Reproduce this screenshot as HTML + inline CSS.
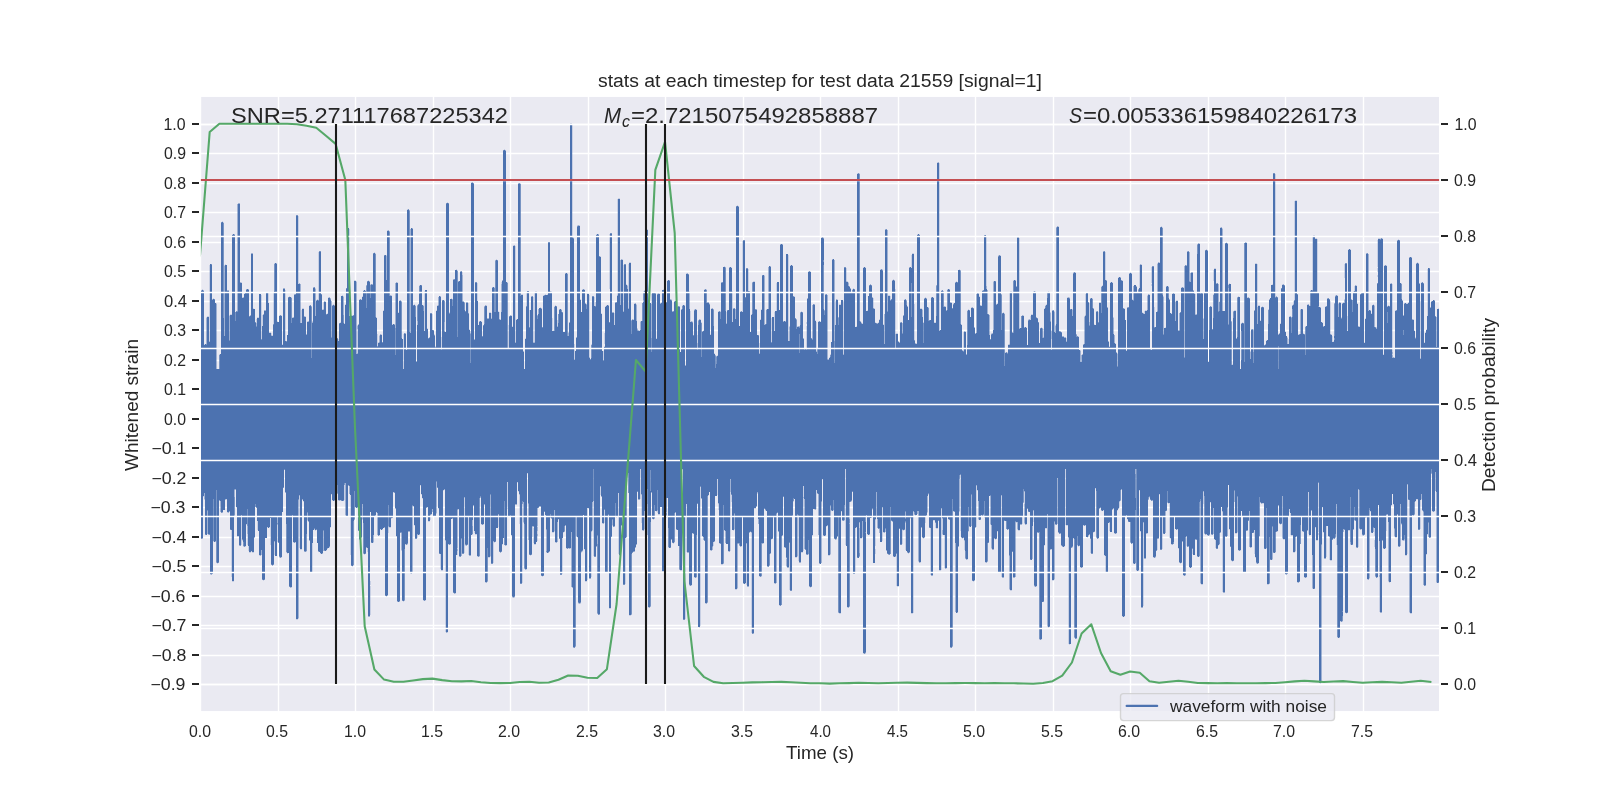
<!DOCTYPE html><html><head><meta charset="utf-8"><title>stats at each timestep</title>
<style>html,body{margin:0;padding:0;background:#fff;overflow:hidden}svg{display:block}text{font-family:"Liberation Sans", sans-serif;fill:#262626}</style></head><body>
<svg width="1600" height="800" viewBox="0 0 1600 800">
<rect width="1600" height="800" fill="#fff"/>
<rect x="200" y="96" width="1240" height="616" fill="#EAEAF2"/>
<path d="M200.5 96V712M278.5 96V712M355.5 96V712M433.5 96V712M510.5 96V712M588.5 96V712M665.5 96V712M743.5 96V712M820.5 96V712M898.5 96V712M975.5 96V712M1053.5 96V712M1130.5 96V712M1208.5 96V712M1285.5 96V712M1363.5 96V712M200 684.5H1440M200 655.5H1440M200 625.5H1440M200 596.5H1440M200 566.5H1440M200 537.5H1440M200 507.5H1440M200 478.5H1440M200 448.5H1440M200 419.5H1440M200 389.5H1440M200 360.5H1440M200 330.5H1440M200 301.5H1440M200 271.5H1440M200 242.5H1440M200 212.5H1440M200 183.5H1440M200 153.5H1440M200 124.5H1440" stroke="#fff" stroke-width="1.39" fill="none"/>
<path d="M200 314h1V538h-1zM201 290h1V539h-1zM202 289h1V539h-1zM203 290h1V497h-1zM204 344h1V500h-1zM205 344h1V535h-1zM206 317h1V535h-1zM207 316h1V534h-1zM208 316h1V535h-1zM209 265h1V535h-1zM210 264h1V575h-1zM211 264h1V575h-1zM212 299h1V574h-1zM213 298h1V542h-1zM214 299h1V542h-1zM215 303h1V542h-1zM216 303h1V563h-1zM217 369h1V564h-1zM218 369h1V563h-1zM219 354h1V501h-1zM220 354h1V512h-1zM221 222h1V513h-1zM222 221h1V513h-1zM223 222h1V510h-1zM224 265h1V510h-1zM225 264h1V500h-1zM226 265h1V500h-1zM227 290h1V513h-1zM228 290h1V513h-1zM229 315h1V512h-1zM230 314h1V530h-1zM231 314h1V577h-1zM232 234h1V582h-1zM233 234h1V582h-1zM234 234h1V516h-1zM235 312h1V490h-1zM236 311h1V508h-1zM237 204h1V537h-1zM238 203h1V537h-1zM239 203h1V546h-1zM240 282h1V546h-1zM241 282h1V545h-1zM242 297h1V541h-1zM243 297h1V547h-1zM244 293h1V547h-1zM245 293h1V547h-1zM246 289h1V525h-1zM247 289h1V545h-1zM248 289h1V551h-1zM249 316h1V553h-1zM250 315h1V553h-1zM251 253h1V552h-1zM252 253h1V553h-1zM253 308h1V553h-1zM254 309h1V538h-1zM255 322h1V507h-1zM256 319h1V508h-1zM257 317h1V530h-1zM258 317h1V531h-1zM259 294h1V556h-1zM260 294h1V556h-1zM261 295h1V555h-1zM262 315h1V580h-1zM263 314h1V581h-1zM264 310h1V580h-1zM265 310h1V538h-1zM266 292h1V538h-1zM267 292h1V528h-1zM268 293h1V528h-1zM269 332h1V528h-1zM270 332h1V545h-1zM271 333h1V565h-1zM272 335h1V566h-1zM273 292h1V565h-1zM274 263h1V555h-1zM275 263h1V556h-1zM276 263h1V556h-1zM277 321h1V542h-1zM278 322h1V543h-1zM279 315h1V558h-1zM280 315h1V558h-1zM281 315h1V558h-1zM282 344h1V512h-1zM283 288h1V488h-1zM284 288h1V470h-1zM285 290h1V493h-1zM286 341h1V553h-1zM287 335h1V554h-1zM288 297h1V553h-1zM289 296h1V587h-1zM290 297h1V588h-1zM291 297h1V588h-1zM292 317h1V516h-1zM293 317h1V543h-1zM294 294h1V543h-1zM295 294h1V543h-1zM296 215h1V620h-1zM297 215h1V620h-1zM298 216h1V619h-1zM299 283h1V548h-1zM300 284h1V550h-1zM301 310h1V550h-1zM302 308h1V500h-1zM303 308h1V502h-1zM304 316h1V552h-1zM305 316h1V552h-1zM306 334h1V552h-1zM307 321h1V521h-1zM308 321h1V522h-1zM309 305h1V541h-1zM310 305h1V573h-1zM311 306h1V573h-1zM312 321h1V572h-1zM313 287h1V530h-1zM314 287h1V530h-1zM315 288h1V531h-1zM316 300h1V530h-1zM317 299h1V543h-1zM318 252h1V552h-1zM319 251h1V552h-1zM320 251h1V554h-1zM321 294h1V554h-1zM322 309h1V554h-1zM323 302h1V551h-1zM324 301h1V551h-1zM325 301h1V551h-1zM326 314h1V551h-1zM327 313h1V549h-1zM328 297h1V548h-1zM329 297h1V548h-1zM330 298h1V528h-1zM331 301h1V495h-1zM332 305h1V501h-1zM333 304h1V501h-1zM334 305h1V501h-1zM335 311h1V499h-1zM336 338h1V498h-1zM337 338h1V494h-1zM338 339h1V501h-1zM339 323h1V501h-1zM340 322h1V501h-1zM341 296h1V501h-1zM342 295h1V501h-1zM343 296h1V501h-1zM344 323h1V500h-1zM345 304h1V516h-1zM346 288h1V517h-1zM347 228h1V517h-1zM348 228h1V486h-1zM349 229h1V494h-1zM350 315h1V555h-1zM351 315h1V566h-1zM352 315h1V567h-1zM353 315h1V566h-1zM354 280h1V520h-1zM355 280h1V508h-1zM356 281h1V508h-1zM357 325h1V508h-1zM358 324h1V531h-1zM359 299h1V540h-1zM360 299h1V540h-1zM361 299h1V538h-1zM362 296h1V520h-1zM363 290h1V554h-1zM364 290h1V555h-1zM365 290h1V554h-1zM366 285h1V548h-1zM367 281h1V552h-1zM368 280h1V617h-1zM369 281h1V617h-1zM370 284h1V512h-1zM370 581h1V585h-1zM370 586h1V615h-1zM371 284h1V543h-1zM372 284h1V543h-1zM373 253h1V543h-1zM374 252h1V517h-1zM375 253h1V516h-1zM376 317h1V513h-1zM377 334h1V535h-1zM378 342h1V536h-1zM379 335h1V536h-1zM380 334h1V530h-1zM381 334h1V530h-1zM382 342h1V530h-1zM383 310h1V528h-1zM384 255h1V528h-1zM385 255h1V596h-1zM386 255h1V597h-1zM387 230h1V596h-1zM388 230h1V533h-1zM389 231h1V528h-1zM390 295h1V528h-1zM391 295h1V519h-1zM392 324h1V518h-1zM393 324h1V493h-1zM394 324h1V493h-1zM395 283h1V509h-1zM396 282h1V537h-1zM397 282h1V602h-1zM398 312h1V602h-1zM399 300h1V602h-1zM400 300h1V533h-1zM401 301h1V551h-1zM402 339h1V601h-1zM403 334h1V602h-1zM404 333h1V601h-1zM405 333h1V545h-1zM406 349h1V545h-1zM407 209h1V545h-1zM408 209h1V532h-1zM409 210h1V532h-1zM410 229h1V574h-1zM411 228h1V574h-1zM412 228h1V573h-1zM413 305h1V507h-1zM414 304h1V526h-1zM415 305h1V539h-1zM416 361h1V539h-1zM417 305h1V538h-1zM418 304h1V535h-1zM419 285h1V535h-1zM420 285h1V486h-1zM421 285h1V495h-1zM422 305h1V499h-1zM423 305h1V601h-1zM424 291h1V601h-1zM425 290h1V601h-1zM426 290h1V508h-1zM427 328h1V508h-1zM428 338h1V522h-1zM429 337h1V522h-1zM430 313h1V520h-1zM431 313h1V515h-1zM432 314h1V512h-1zM433 330h1V517h-1zM434 334h1V517h-1zM435 346h1V517h-1zM436 310h1V514h-1zM437 305h1V488h-1zM438 297h1V509h-1zM439 296h1V554h-1zM440 296h1V569h-1zM441 337h1V571h-1zM442 300h1V571h-1zM443 300h1V491h-1zM444 300h1V490h-1zM445 332h1V632h-1zM446 203h1V633h-1zM447 202h1V633h-1zM448 203h1V545h-1zM449 312h1V545h-1zM450 299h1V545h-1zM451 298h1V519h-1zM452 299h1V519h-1zM453 279h1V593h-1zM454 279h1V594h-1zM455 270h1V594h-1zM456 269h1V555h-1zM457 270h1V555h-1zM458 281h1V510h-1zM459 281h1V557h-1zM460 271h1V557h-1zM461 271h1V556h-1zM462 272h1V554h-1zM463 301h1V554h-1zM464 302h1V553h-1zM465 311h1V546h-1zM466 302h1V546h-1zM467 302h1V545h-1zM468 303h1V555h-1zM469 329h1V556h-1zM470 331h1V556h-1zM471 182h1V535h-1zM472 182h1V535h-1zM473 183h1V506h-1zM474 339h1V533h-1zM475 282h1V535h-1zM476 282h1V535h-1zM477 283h1V557h-1zM478 325h1V557h-1zM479 321h1V557h-1zM480 321h1V498h-1zM481 321h1V525h-1zM482 336h1V525h-1zM483 325h1V525h-1zM484 306h1V505h-1zM485 305h1V583h-1zM486 305h1V583h-1zM487 318h1V582h-1zM488 318h1V558h-1zM489 312h1V558h-1zM490 312h1V557h-1zM491 313h1V564h-1zM492 287h1V564h-1zM493 287h1V563h-1zM494 287h1V543h-1zM495 260h1V542h-1zM496 259h1V528h-1zM497 260h1V528h-1zM498 311h1V527h-1zM499 312h1V552h-1zM500 319h1V553h-1zM501 282h1V552h-1zM502 280h1V545h-1zM503 150h1V538h-1zM504 149h1V545h-1zM505 150h1V546h-1zM506 282h1V546h-1zM507 282h1V509h-1zM508 325h1V517h-1zM509 316h1V517h-1zM510 315h1V517h-1zM511 315h1V536h-1zM512 326h1V598h-1zM513 245h1V598h-1zM514 245h1V598h-1zM515 246h1V505h-1zM516 319h1V505h-1zM517 319h1V483h-1zM518 183h1V492h-1zM519 183h1V524h-1zM520 183h1V584h-1zM521 294h1V584h-1zM522 294h1V583h-1zM523 351h1V523h-1zM524 369h1V569h-1zM525 338h1V570h-1zM526 292h1V570h-1zM527 291h1V474h-1zM528 291h1V540h-1zM529 310h1V555h-1zM530 310h1V556h-1zM531 296h1V555h-1zM532 296h1V537h-1zM533 297h1V527h-1zM533 528h1V543h-1zM534 293h1V545h-1zM535 291h1V545h-1zM536 291h1V542h-1zM537 315h1V541h-1zM538 309h1V508h-1zM539 308h1V507h-1zM540 307h1V507h-1zM541 308h1V576h-1zM542 327h1V577h-1zM543 295h1V576h-1zM544 295h1V512h-1zM545 294h1V516h-1zM546 295h1V553h-1zM547 294h1V553h-1zM548 242h1V553h-1zM549 242h1V552h-1zM550 291h1V518h-1zM551 291h1V519h-1zM552 318h1V533h-1zM553 330h1V533h-1zM554 306h1V532h-1zM555 305h1V543h-1zM556 306h1V543h-1zM557 320h1V542h-1zM558 314h1V520h-1zM559 309h1V539h-1zM560 309h1V575h-1zM561 309h1V575h-1zM562 312h1V574h-1zM563 332h1V533h-1zM564 332h1V532h-1zM565 273h1V526h-1zM566 273h1V549h-1zM567 273h1V549h-1zM568 332h1V549h-1zM569 322h1V549h-1zM570 123h1V549h-1zM571 123h1V587h-1zM572 125h1V588h-1zM573 237h1V648h-1zM574 344h1V648h-1zM575 351h1V647h-1zM576 337h1V537h-1zM577 225h1V538h-1zM578 225h1V604h-1zM579 225h1V604h-1zM580 299h1V604h-1zM581 312h1V553h-1zM582 289h1V552h-1zM583 289h1V515h-1zM584 289h1V550h-1zM585 303h1V582h-1zM586 304h1V582h-1zM587 293h1V580h-1zM588 293h1V509h-1zM589 295h1V579h-1zM590 359h1V579h-1zM591 344h1V577h-1zM592 296h1V531h-1zM593 296h1V556h-1zM594 297h1V557h-1zM595 302h1V557h-1zM596 234h1V547h-1zM597 234h1V614h-1zM598 234h1V615h-1zM599 256h1V615h-1zM600 256h1V495h-1zM601 313h1V497h-1zM602 351h1V524h-1zM603 351h1V524h-1zM604 333h1V344h-1zM604 346h1V523h-1zM605 306h1V573h-1zM606 305h1V573h-1zM607 305h1V573h-1zM608 305h1V516h-1zM609 234h1V289h-1zM609 322h1V609h-1zM610 233h1V609h-1zM611 233h1V537h-1zM612 312h1V526h-1zM613 312h1V527h-1zM614 313h1V527h-1zM615 302h1V517h-1zM616 302h1V518h-1zM617 199h1V517h-1zM618 198h1V554h-1zM619 198h1V556h-1zM620 260h1V555h-1zM621 259h1V526h-1zM622 259h1V524h-1zM623 265h1V585h-1zM624 264h1V585h-1zM625 264h1V584h-1zM626 284h1V538h-1zM627 285h1V474h-1zM628 264h1V493h-1zM629 262h1V616h-1zM630 262h1V616h-1zM631 320h1V615h-1zM632 319h1V553h-1zM633 319h1V552h-1zM634 303h1V552h-1zM635 303h1V548h-1zM636 304h1V545h-1zM637 328h1V492h-1zM638 330h1V500h-1zM639 330h1V500h-1zM640 321h1V499h-1zM641 321h1V523h-1zM642 303h1V531h-1zM643 291h1V531h-1zM644 290h1V530h-1zM645 230h1V511h-1zM646 229h1V506h-1zM647 229h1V535h-1zM648 320h1V608h-1zM649 303h1V608h-1zM650 303h1V607h-1zM651 294h1V493h-1zM652 292h1V519h-1zM653 292h1V520h-1zM654 292h1V519h-1zM655 293h1V511h-1zM656 338h1V512h-1zM657 293h1V513h-1zM658 293h1V515h-1zM659 293h1V515h-1zM660 303h1V507h-1zM661 302h1V507h-1zM662 290h1V572h-1zM663 289h1V572h-1zM664 290h1V571h-1zM665 302h1V519h-1zM666 302h1V518h-1zM667 280h1V498h-1zM668 280h1V548h-1zM669 280h1V548h-1zM670 299h1V548h-1zM671 299h1V540h-1zM672 311h1V543h-1zM673 311h1V544h-1zM674 301h1V543h-1zM675 301h1V513h-1zM676 301h1V530h-1zM677 306h1V530h-1zM678 306h1V546h-1zM679 306h1V570h-1zM680 352h1V571h-1zM681 309h1V571h-1zM682 305h1V470h-1zM683 305h1V620h-1zM684 305h1V620h-1zM685 365h1V619h-1zM686 273h1V552h-1zM687 273h1V553h-1zM688 274h1V553h-1zM689 291h1V586h-1zM690 311h1V586h-1zM691 321h1V586h-1zM692 321h1V534h-1zM693 335h1V534h-1zM694 309h1V578h-1zM695 309h1V578h-1zM696 309h1V578h-1zM697 335h1V504h-1zM698 320h1V627h-1zM699 319h1V628h-1zM700 319h1V626h-1zM701 322h1V499h-1zM702 331h1V537h-1zM703 330h1V540h-1zM704 289h1V541h-1zM705 289h1V604h-1zM706 289h1V604h-1zM707 302h1V603h-1zM708 302h1V496h-1zM709 303h1V492h-1zM710 334h1V551h-1zM711 308h1V551h-1zM712 308h1V550h-1zM713 309h1V546h-1zM714 353h1V542h-1zM715 355h1V496h-1zM716 356h1V496h-1zM717 355h1V495h-1zM718 311h1V510h-1zM719 311h1V544h-1zM720 311h1V544h-1zM721 282h1V565h-1zM722 282h1V565h-1zM723 267h1V564h-1zM724 266h1V531h-1zM725 267h1V543h-1zM726 312h1V544h-1zM727 310h1V544h-1zM728 310h1V552h-1zM729 267h1V552h-1zM730 267h1V551h-1zM731 267h1V502h-1zM732 291h1V530h-1zM733 308h1V531h-1zM734 308h1V530h-1zM735 309h1V590h-1zM736 206h1V590h-1zM737 205h1V589h-1zM738 206h1V544h-1zM739 326h1V546h-1zM740 311h1V547h-1zM741 311h1V547h-1zM742 241h1V518h-1zM743 240h1V584h-1zM744 240h1V584h-1zM745 297h1V584h-1zM746 268h1V585h-1zM747 268h1V587h-1zM748 269h1V587h-1zM749 291h1V533h-1zM750 332h1V532h-1zM751 314h1V633h-1zM752 282h1V634h-1zM753 281h1V634h-1zM754 281h1V509h-1zM755 309h1V509h-1zM756 309h1V507h-1zM757 335h1V494h-1zM758 335h1V524h-1zM759 343h1V577h-1zM760 319h1V577h-1zM761 309h1V577h-1zM762 275h1V544h-1zM763 275h1V544h-1zM764 275h1V509h-1zM765 324h1V511h-1zM766 309h1V511h-1zM767 309h1V567h-1zM768 267h1V567h-1zM769 266h1V566h-1zM770 266h1V554h-1zM771 318h1V540h-1zM772 317h1V539h-1zM773 317h1V518h-1zM774 312h1V584h-1zM775 311h1V584h-1zM776 283h1V583h-1zM777 282h1V513h-1zM778 282h1V532h-1zM779 310h1V606h-1zM780 244h1V606h-1zM781 244h1V605h-1zM782 244h1V536h-1zM783 321h1V497h-1zM784 321h1V548h-1zM785 321h1V548h-1zM786 254h1V567h-1zM787 254h1V568h-1zM788 255h1V568h-1zM789 326h1V590h-1zM790 265h1V591h-1zM791 265h1V591h-1zM792 265h1V516h-1zM793 296h1V502h-1zM794 296h1V499h-1zM795 318h1V558h-1zM796 319h1V558h-1zM797 326h1V557h-1zM798 326h1V561h-1zM799 326h1V563h-1zM800 312h1V563h-1zM801 311h1V553h-1zM802 312h1V553h-1zM803 338h1V551h-1zM804 349h1V549h-1zM805 348h1V550h-1zM806 322h1V324h-1zM806 326h1V555h-1zM807 298h1V555h-1zM808 271h1V555h-1zM809 271h1V587h-1zM810 271h1V588h-1zM811 338h1V587h-1zM812 305h1V536h-1zM813 304h1V509h-1zM814 304h1V510h-1zM815 320h1V510h-1zM816 322h1V509h-1zM817 348h1V494h-1zM818 321h1V535h-1zM819 321h1V564h-1zM820 321h1V564h-1zM821 237h1V563h-1zM822 237h1V480h-1zM823 237h1V536h-1zM824 310h1V536h-1zM825 294h1V536h-1zM826 294h1V527h-1zM827 295h1V526h-1zM828 359h1V556h-1zM829 357h1V556h-1zM830 354h1V555h-1zM831 342h1V511h-1zM832 259h1V511h-1zM833 259h1V511h-1zM834 260h1V539h-1zM835 301h1V540h-1zM836 299h1V540h-1zM837 299h1V537h-1zM838 317h1V613h-1zM839 304h1V614h-1zM840 304h1V614h-1zM841 300h1V512h-1zM842 300h1V521h-1zM843 301h1V521h-1zM844 267h1V521h-1zM845 267h1V545h-1zM846 268h1V546h-1zM847 281h1V608h-1zM848 282h1V608h-1zM849 286h1V607h-1zM850 288h1V502h-1zM851 292h1V502h-1zM852 289h1V492h-1zM853 288h1V574h-1zM854 289h1V574h-1zM855 327h1V573h-1zM856 326h1V528h-1zM857 173h1V558h-1zM858 173h1V558h-1zM859 173h1V557h-1zM860 321h1V539h-1zM861 322h1V539h-1zM862 323h1V538h-1zM863 267h1V654h-1zM864 267h1V654h-1zM865 267h1V654h-1zM866 311h1V516h-1zM867 310h1V535h-1zM868 296h1V535h-1zM869 285h1V535h-1zM870 284h1V518h-1zM871 285h1V518h-1zM872 297h1V510h-1zM873 298h1V563h-1zM874 308h1V563h-1zM875 322h1V546h-1zM875 549h1V554h-1zM876 323h1V516h-1zM877 323h1V528h-1zM878 322h1V529h-1zM879 319h1V533h-1zM880 269h1V542h-1zM881 269h1V542h-1zM882 269h1V541h-1zM883 324h1V533h-1zM884 314h1V533h-1zM885 229h1V532h-1zM886 229h1V551h-1zM887 230h1V554h-1zM888 295h1V555h-1zM889 295h1V555h-1zM890 296h1V554h-1zM891 299h1V521h-1zM892 280h1V522h-1zM893 279h1V557h-1zM894 280h1V557h-1zM895 289h1V557h-1zM896 333h1V586h-1zM897 333h1V587h-1zM898 341h1V587h-1zM899 342h1V529h-1zM900 322h1V545h-1zM901 322h1V545h-1zM902 323h1V544h-1zM903 315h1V531h-1zM904 299h1V530h-1zM905 299h1V550h-1zM906 300h1V551h-1zM907 306h1V553h-1zM908 320h1V554h-1zM909 267h1V553h-1zM910 267h1V519h-1zM911 255h1V614h-1zM912 253h1V614h-1zM913 253h1V613h-1zM914 304h1V515h-1zM915 343h1V516h-1zM916 343h1V515h-1zM917 234h1V514h-1zM918 234h1V562h-1zM919 234h1V563h-1zM920 308h1V563h-1zM921 308h1V528h-1zM922 309h1V538h-1zM923 322h1V539h-1zM924 298h1V538h-1zM925 297h1V523h-1zM926 298h1V516h-1zM927 307h1V513h-1zM928 307h1V495h-1zM929 320h1V528h-1zM930 320h1V575h-1zM931 297h1V576h-1zM932 297h1V576h-1zM933 297h1V521h-1zM934 322h1V521h-1zM935 322h1V528h-1zM936 285h1V529h-1zM937 162h1V529h-1zM938 162h1V521h-1zM939 163h1V571h-1zM940 330h1V571h-1zM941 290h1V570h-1zM942 290h1V535h-1zM943 291h1V535h-1zM944 306h1V568h-1zM945 306h1V569h-1zM946 310h1V569h-1zM947 289h1V516h-1zM948 289h1V520h-1zM949 289h1V520h-1zM950 302h1V648h-1zM951 302h1V648h-1zM952 308h1V647h-1zM953 303h1V512h-1zM954 303h1V512h-1zM955 282h1V612h-1zM956 281h1V613h-1zM957 282h1V613h-1zM958 270h1V547h-1zM959 269h1V512h-1zM960 270h1V531h-1zM961 324h1V538h-1zM962 350h1V539h-1zM963 332h1V538h-1zM964 331h1V550h-1zM965 331h1V559h-1zM966 354h1V560h-1zM967 310h1V560h-1zM968 309h1V532h-1zM969 310h1V527h-1zM970 317h1V527h-1zM971 307h1V526h-1zM972 307h1V581h-1zM973 308h1V582h-1zM974 327h1V581h-1zM975 333h1V528h-1zM976 294h1V527h-1zM977 293h1V491h-1zM978 293h1V520h-1zM979 296h1V520h-1zM980 305h1V520h-1zM981 305h1V516h-1zM982 290h1V516h-1zM983 290h1V516h-1zM984 235h1V518h-1zM985 235h1V563h-1zM986 236h1V563h-1zM987 290h1V562h-1zM988 314h1V543h-1zM989 315h1V496h-1zM990 339h1V525h-1zM991 333h1V549h-1zM992 333h1V550h-1zM993 281h1V550h-1zM994 281h1V539h-1zM995 281h1V540h-1zM996 304h1V539h-1zM997 303h1V532h-1zM998 255h1V573h-1zM999 255h1V573h-1zM1000 255h1V573h-1zM1001 294h1V577h-1zM1002 313h1V578h-1zM1003 312h1V578h-1zM1004 313h1V521h-1zM1005 352h1V521h-1zM1006 352h1V529h-1zM1007 352h1V530h-1zM1008 344h1V530h-1zM1009 293h1V590h-1zM1010 291h1V591h-1zM1011 291h1V591h-1zM1012 332h1V552h-1zM1013 280h1V578h-1zM1014 280h1V578h-1zM1015 280h1V577h-1zM1016 286h1V523h-1zM1017 237h1V530h-1zM1018 237h1V531h-1zM1019 238h1V531h-1zM1020 328h1V525h-1zM1021 316h1V525h-1zM1022 315h1V524h-1zM1023 315h1V503h-1zM1024 327h1V524h-1zM1025 327h1V525h-1zM1026 327h1V525h-1zM1027 345h1V509h-1zM1028 319h1V512h-1zM1029 319h1V512h-1zM1030 316h1V560h-1zM1031 314h1V560h-1zM1032 314h1V559h-1zM1033 291h1V522h-1zM1034 291h1V587h-1zM1035 291h1V587h-1zM1036 317h1V587h-1zM1037 318h1V533h-1zM1038 322h1V533h-1zM1039 343h1V640h-1zM1040 328h1V640h-1zM1041 327h1V640h-1zM1042 328h1V602h-1zM1043 329h1V602h-1zM1044 308h1V546h-1zM1045 305h1V529h-1zM1046 304h1V529h-1zM1047 292h1V627h-1zM1048 291h1V628h-1zM1049 292h1V627h-1zM1050 312h1V550h-1zM1051 330h1V550h-1zM1052 310h1V581h-1zM1053 310h1V581h-1zM1054 311h1V580h-1zM1055 325h1V525h-1zM1056 227h1V525h-1zM1057 226h1V524h-1zM1058 226h1V533h-1zM1059 331h1V534h-1zM1060 331h1V534h-1zM1061 332h1V546h-1zM1062 336h1V547h-1zM1063 336h1V547h-1zM1064 337h1V547h-1zM1065 337h1V525h-1zM1066 338h1V526h-1zM1067 297h1V526h-1zM1068 297h1V644h-1zM1069 297h1V645h-1zM1070 309h1V644h-1zM1071 309h1V548h-1zM1072 309h1V548h-1zM1073 272h1V539h-1zM1074 272h1V638h-1zM1075 272h1V639h-1zM1076 334h1V639h-1zM1077 336h1V546h-1zM1078 336h1V547h-1zM1079 350h1V546h-1zM1080 350h1V568h-1zM1081 355h1V568h-1zM1082 354h1V568h-1zM1083 344h1V526h-1zM1084 316h1V526h-1zM1085 294h1V526h-1zM1086 292h1V537h-1zM1087 292h1V538h-1zM1088 302h1V537h-1zM1089 303h1V535h-1zM1090 298h1V553h-1zM1091 298h1V554h-1zM1092 298h1V554h-1zM1093 308h1V533h-1zM1094 324h1V532h-1zM1095 325h1V489h-1zM1096 311h1V538h-1zM1097 311h1V539h-1zM1098 312h1V539h-1zM1099 302h1V509h-1zM1100 302h1V508h-1zM1101 286h1V511h-1zM1102 285h1V511h-1zM1103 251h1V511h-1zM1104 251h1V556h-1zM1105 252h1V572h-1zM1106 280h1V573h-1zM1107 307h1V573h-1zM1108 341h1V523h-1zM1109 346h1V531h-1zM1110 282h1V532h-1zM1111 282h1V532h-1zM1112 282h1V510h-1zM1113 317h1V509h-1zM1114 335h1V534h-1zM1115 343h1V534h-1zM1116 352h1V534h-1zM1117 353h1V511h-1zM1118 277h1V509h-1zM1119 277h1V508h-1zM1120 277h1V501h-1zM1121 280h1V490h-1zM1122 280h1V617h-1zM1123 308h1V617h-1zM1124 308h1V617h-1zM1125 320h1V517h-1zM1126 350h1V516h-1zM1127 307h1V520h-1zM1128 307h1V522h-1zM1129 273h1V522h-1zM1130 272h1V543h-1zM1131 273h1V544h-1zM1132 299h1V544h-1zM1133 286h1V564h-1zM1134 285h1V564h-1zM1135 285h1V564h-1zM1136 286h1V571h-1zM1137 293h1V571h-1zM1138 289h1V571h-1zM1139 265h1V491h-1zM1140 264h1V532h-1zM1141 264h1V608h-1zM1142 312h1V608h-1zM1143 313h1V606h-1zM1144 311h1V559h-1zM1145 310h1V559h-1zM1146 310h1V534h-1zM1147 295h1V534h-1zM1148 294h1V500h-1zM1149 294h1V498h-1zM1150 349h1V500h-1zM1151 267h1V283h-1zM1151 284h1V286h-1zM1151 349h1V501h-1zM1152 266h1V501h-1zM1153 266h1V558h-1zM1154 307h1V558h-1zM1155 327h1V558h-1zM1156 312h1V551h-1zM1157 263h1V550h-1zM1158 262h1V539h-1zM1159 262h1V495h-1zM1160 227h1V550h-1zM1161 226h1V550h-1zM1162 227h1V549h-1zM1163 296h1V534h-1zM1164 328h1V534h-1zM1165 327h1V533h-1zM1166 286h1V511h-1zM1167 286h1V503h-1zM1168 286h1V504h-1zM1169 299h1V538h-1zM1170 313h1V539h-1zM1171 313h1V545h-1zM1172 293h1V545h-1zM1173 293h1V544h-1zM1174 293h1V517h-1zM1175 301h1V529h-1zM1176 300h1V530h-1zM1177 300h1V530h-1zM1178 330h1V549h-1zM1179 313h1V563h-1zM1180 312h1V564h-1zM1181 287h1V563h-1zM1182 287h1V542h-1zM1183 287h1V576h-1zM1184 266h1V576h-1zM1185 265h1V576h-1zM1186 265h1V546h-1zM1187 251h1V547h-1zM1188 251h1V547h-1zM1189 252h1V568h-1zM1190 273h1V568h-1zM1191 272h1V568h-1zM1192 272h1V554h-1zM1193 290h1V555h-1zM1194 293h1V555h-1zM1195 294h1V540h-1zM1196 314h1V540h-1zM1197 244h1V557h-1zM1198 243h1V557h-1zM1199 243h1V557h-1zM1200 293h1V584h-1zM1201 292h1V585h-1zM1202 293h1V585h-1zM1203 318h1V504h-1zM1204 292h1V534h-1zM1205 250h1V535h-1zM1206 249h1V535h-1zM1207 250h1V536h-1zM1208 361h1V536h-1zM1209 307h1V536h-1zM1210 306h1V503h-1zM1211 306h1V535h-1zM1212 329h1V535h-1zM1213 270h1V281h-1zM1213 294h1V534h-1zM1214 268h1V540h-1zM1215 268h1V548h-1zM1216 283h1V549h-1zM1217 283h1V549h-1zM1218 284h1V546h-1zM1219 301h1V545h-1zM1220 227h1V533h-1zM1221 227h1V507h-1zM1222 228h1V592h-1zM1223 311h1V593h-1zM1224 311h1V593h-1zM1225 243h1V537h-1zM1226 242h1V537h-1zM1227 243h1V536h-1zM1228 284h1V485h-1zM1229 283h1V530h-1zM1230 284h1V547h-1zM1231 321h1V561h-1zM1232 364h1V562h-1zM1233 311h1V561h-1zM1234 310h1V502h-1zM1235 310h1V534h-1zM1236 338h1V534h-1zM1237 297h1V533h-1zM1238 296h1V551h-1zM1239 297h1V551h-1zM1240 369h1V551h-1zM1241 323h1V511h-1zM1242 322h1V517h-1zM1243 323h1V573h-1zM1244 243h1V573h-1zM1245 242h1V573h-1zM1246 242h1V531h-1zM1247 297h1V531h-1zM1248 297h1V521h-1zM1249 298h1V547h-1zM1250 351h1V548h-1zM1251 329h1V548h-1zM1252 329h1V533h-1zM1253 329h1V533h-1zM1254 310h1V554h-1zM1255 263h1V558h-1zM1256 263h1V564h-1zM1257 264h1V564h-1zM1258 305h1V564h-1zM1259 305h1V537h-1zM1260 320h1V503h-1zM1261 307h1V504h-1zM1262 306h1V504h-1zM1263 307h1V504h-1zM1264 345h1V549h-1zM1265 344h1V549h-1zM1266 340h1V549h-1zM1267 340h1V585h-1zM1268 309h1V585h-1zM1269 299h1V584h-1zM1270 298h1V560h-1zM1271 285h1V560h-1zM1272 284h1V560h-1zM1273 173h1V553h-1zM1274 173h1V553h-1zM1275 174h1V553h-1zM1276 296h1V532h-1zM1277 297h1V532h-1zM1278 334h1V506h-1zM1279 333h1V524h-1zM1280 323h1V525h-1zM1281 288h1V524h-1zM1282 284h1V539h-1zM1283 284h1V540h-1zM1284 285h1V540h-1zM1285 331h1V575h-1zM1286 336h1V575h-1zM1287 337h1V574h-1zM1288 339h1V517h-1zM1289 316h1V512h-1zM1290 316h1V535h-1zM1291 317h1V536h-1zM1292 305h1V536h-1zM1293 301h1V553h-1zM1294 201h1V553h-1zM1295 200h1V552h-1zM1296 200h1V537h-1zM1297 294h1V583h-1zM1298 334h1V583h-1zM1299 334h1V582h-1zM1300 309h1V544h-1zM1301 309h1V517h-1zM1302 309h1V532h-1zM1303 333h1V532h-1zM1304 334h1V578h-1zM1305 326h1V578h-1zM1306 326h1V578h-1zM1307 304h1V531h-1zM1308 304h1V534h-1zM1309 305h1V536h-1zM1310 290h1V535h-1zM1311 290h1V511h-1zM1312 237h1V589h-1zM1313 235h1V589h-1zM1314 235h1V589h-1zM1315 238h1V528h-1zM1316 238h1V541h-1zM1317 239h1V541h-1zM1318 292h1V532h-1zM1318 533h1V535h-1zM1319 307h1V683h-1zM1320 307h1V684h-1zM1321 322h1V683h-1zM1322 322h1V508h-1zM1323 326h1V533h-1zM1324 326h1V559h-1zM1325 306h1V559h-1zM1326 306h1V557h-1zM1327 298h1V526h-1zM1328 298h1V537h-1zM1329 299h1V560h-1zM1330 301h1V561h-1zM1331 334h1V561h-1zM1332 336h1V540h-1zM1333 341h1V539h-1zM1334 303h1V539h-1zM1335 295h1V538h-1zM1336 295h1V545h-1zM1337 295h1V638h-1zM1338 303h1V638h-1zM1339 302h1V638h-1zM1340 302h1V622h-1zM1341 317h1V622h-1zM1342 303h1V622h-1zM1343 302h1V532h-1zM1344 264h1V278h-1zM1344 299h1V530h-1zM1345 263h1V613h-1zM1346 263h1V614h-1zM1347 316h1V613h-1zM1348 249h1V531h-1zM1349 249h1V531h-1zM1350 249h1V545h-1zM1351 299h1V545h-1zM1352 300h1V545h-1zM1353 291h1V530h-1zM1354 286h1V521h-1zM1355 285h1V521h-1zM1356 285h1V548h-1zM1357 303h1V548h-1zM1358 326h1V547h-1zM1359 326h1V529h-1zM1360 294h1V530h-1zM1361 292h1V530h-1zM1362 292h1V536h-1zM1363 292h1V536h-1zM1364 342h1V535h-1zM1365 318h1V518h-1zM1366 253h1V518h-1zM1367 253h1V580h-1zM1368 254h1V580h-1zM1369 310h1V579h-1zM1370 310h1V512h-1zM1371 313h1V533h-1zM1372 305h1V533h-1zM1373 304h1V532h-1zM1374 305h1V536h-1zM1374 540h1V547h-1zM1375 327h1V577h-1zM1376 327h1V578h-1zM1377 240h1V267h-1zM1377 268h1V272h-1zM1377 275h1V277h-1zM1377 283h1V578h-1zM1378 238h1V505h-1zM1379 238h1V612h-1zM1380 238h1V613h-1zM1381 238h1V613h-1zM1382 238h1V541h-1zM1383 354h1V549h-1zM1384 265h1V549h-1zM1385 265h1V549h-1zM1386 265h1V531h-1zM1387 306h1V515h-1zM1388 305h1V582h-1zM1389 306h1V583h-1zM1390 283h1V582h-1zM1391 283h1V506h-1zM1392 284h1V494h-1zM1393 357h1V505h-1zM1394 357h1V537h-1zM1395 310h1V538h-1zM1396 310h1V538h-1zM1397 240h1V515h-1zM1398 239h1V547h-1zM1399 240h1V547h-1zM1400 283h1V546h-1zM1401 283h1V525h-1zM1402 300h1V541h-1zM1403 315h1V541h-1zM1404 303h1V541h-1zM1405 303h1V556h-1zM1406 303h1V556h-1zM1407 303h1V554h-1zM1408 302h1V500h-1zM1409 257h1V613h-1zM1410 257h1V614h-1zM1411 257h1V614h-1zM1412 319h1V516h-1zM1413 319h1V516h-1zM1414 330h1V515h-1zM1415 337h1V502h-1zM1416 263h1V500h-1zM1417 262h1V500h-1zM1418 263h1V530h-1zM1419 283h1V530h-1zM1420 301h1V529h-1zM1421 282h1V500h-1zM1422 282h1V511h-1zM1423 283h1V585h-1zM1424 342h1V586h-1zM1425 332h1V586h-1zM1426 329h1V555h-1zM1427 269h1V535h-1zM1428 268h1V537h-1zM1429 268h1V538h-1zM1430 307h1V538h-1zM1431 301h1V474h-1zM1432 301h1V512h-1zM1433 300h1V512h-1zM1434 300h1V512h-1zM1435 316h1V491h-1zM1436 317h1V583h-1zM1437 309h1V583h-1zM1438 308h1V583h-1zM1439 309h1V546h-1z" fill="#4C72B0" fill-opacity="0.220"/>
<path d="M200 315h1V469h-1zM201 290h1V539h-1zM202 290h1V539h-1zM203 290h1V496h-1zM204 345h1V499h-1zM205 344h1V535h-1zM206 318h1V535h-1zM207 317h1V534h-1zM208 317h1V535h-1zM209 341h1V535h-1zM210 264h1V574h-1zM211 264h1V575h-1zM212 299h1V574h-1zM213 299h1V541h-1zM214 299h1V542h-1zM215 303h1V542h-1zM216 304h1V563h-1zM217 369h1V563h-1zM218 369h1V563h-1zM219 355h1V501h-1zM220 354h1V512h-1zM221 222h1V513h-1zM222 222h1V513h-1zM223 223h1V510h-1zM224 266h1V510h-1zM225 265h1V500h-1zM226 265h1V499h-1zM227 290h1V512h-1zM228 290h1V513h-1zM229 316h1V512h-1zM230 315h1V530h-1zM231 315h1V530h-1zM232 235h1V581h-1zM233 234h1V581h-1zM234 234h1V516h-1zM235 312h1V490h-1zM236 311h1V507h-1zM237 204h1V536h-1zM238 203h1V536h-1zM239 203h1V546h-1zM240 282h1V546h-1zM241 283h1V516h-1zM242 298h1V540h-1zM243 297h1V546h-1zM244 294h1V547h-1zM245 293h1V546h-1zM246 289h1V524h-1zM247 289h1V534h-1zM248 289h1V546h-1zM249 316h1V552h-1zM250 315h1V552h-1zM251 253h1V551h-1zM252 253h1V552h-1zM253 309h1V552h-1zM254 309h1V538h-1zM255 322h1V507h-1zM256 323h1V508h-1zM257 318h1V521h-1zM258 318h1V531h-1zM259 294h1V555h-1zM260 294h1V556h-1zM261 339h1V555h-1zM262 326h1V580h-1zM263 314h1V580h-1zM264 310h1V580h-1zM265 310h1V538h-1zM266 292h1V538h-1zM267 292h1V527h-1zM268 303h1V528h-1zM269 333h1V527h-1zM270 333h1V518h-1zM271 335h1V565h-1zM272 336h1V566h-1zM273 324h1V565h-1zM274 264h1V542h-1zM275 263h1V556h-1zM276 263h1V556h-1zM277 322h1V525h-1zM278 322h1V543h-1zM279 316h1V557h-1zM280 315h1V558h-1zM281 316h1V557h-1zM282 345h1V512h-1zM283 288h1V488h-1zM284 288h1V470h-1zM285 341h1V493h-1zM286 341h1V552h-1zM287 335h1V553h-1zM288 297h1V553h-1zM289 297h1V587h-1zM290 297h1V588h-1zM291 298h1V587h-1zM292 318h1V516h-1zM293 317h1V542h-1zM294 294h1V543h-1zM295 294h1V542h-1zM296 215h1V619h-1zM297 215h1V619h-1zM298 284h1V618h-1zM299 283h1V496h-1zM300 284h1V549h-1zM301 323h1V549h-1zM302 309h1V500h-1zM303 309h1V501h-1zM304 316h1V552h-1zM305 317h1V552h-1zM306 334h1V551h-1zM307 322h1V520h-1zM308 321h1V522h-1zM309 306h1V541h-1zM310 305h1V573h-1zM311 306h1V573h-1zM312 322h1V543h-1zM313 287h1V530h-1zM314 287h1V529h-1zM315 289h1V530h-1zM316 300h1V530h-1zM317 300h1V543h-1zM318 300h1V552h-1zM319 251h1V552h-1zM320 251h1V553h-1zM321 294h1V554h-1zM322 310h1V554h-1zM323 309h1V551h-1zM324 301h1V551h-1zM325 302h1V551h-1zM326 314h1V550h-1zM327 314h1V549h-1zM328 298h1V548h-1zM329 297h1V547h-1zM330 298h1V527h-1zM331 301h1V494h-1zM332 305h1V500h-1zM333 305h1V501h-1zM334 305h1V501h-1zM335 312h1V498h-1zM336 338h1V498h-1zM337 338h1V494h-1zM338 341h1V500h-1zM339 323h1V501h-1zM340 323h1V500h-1zM341 296h1V501h-1zM342 296h1V501h-1zM343 297h1V501h-1zM344 324h1V485h-1zM345 305h1V515h-1zM346 288h1V516h-1zM347 228h1V516h-1zM348 228h1V486h-1zM349 316h1V494h-1zM350 315h1V495h-1zM351 316h1V566h-1zM352 316h1V566h-1zM353 315h1V565h-1zM354 281h1V520h-1zM355 281h1V507h-1zM356 282h1V508h-1zM357 326h1V329h-1zM357 353h1V508h-1zM358 324h1V531h-1zM359 300h1V540h-1zM360 299h1V540h-1zM361 300h1V538h-1zM362 297h1V519h-1zM363 291h1V554h-1zM364 290h1V554h-1zM365 291h1V554h-1zM366 285h1V548h-1zM367 281h1V548h-1zM368 281h1V617h-1zM369 281h1V617h-1zM370 285h1V512h-1zM371 284h1V543h-1zM372 284h1V543h-1zM373 253h1V542h-1zM374 253h1V516h-1zM375 254h1V516h-1zM376 318h1V512h-1zM377 346h1V535h-1zM378 343h1V536h-1zM379 336h1V535h-1zM380 334h1V529h-1zM381 335h1V530h-1zM382 342h1V529h-1zM383 311h1V528h-1zM384 255h1V528h-1zM385 255h1V596h-1zM386 256h1V596h-1zM387 231h1V596h-1zM388 230h1V527h-1zM389 231h1V527h-1zM390 295h1V527h-1zM391 296h1V518h-1zM392 325h1V518h-1zM393 324h1V492h-1zM394 324h1V493h-1zM395 283h1V509h-1zM396 282h1V536h-1zM397 283h1V602h-1zM398 313h1V602h-1zM399 301h1V602h-1zM400 300h1V533h-1zM401 301h1V550h-1zM402 339h1V601h-1zM403 369h1V601h-1zM404 333h1V601h-1zM405 333h1V544h-1zM406 350h1V545h-1zM407 210h1V544h-1zM408 209h1V532h-1zM409 210h1V532h-1zM410 229h1V573h-1zM411 228h1V574h-1zM412 228h1V572h-1zM413 305h1V506h-1zM414 305h1V525h-1zM415 306h1V539h-1zM416 361h1V539h-1zM417 305h1V535h-1zM418 304h1V535h-1zM419 286h1V535h-1zM420 285h1V485h-1zM421 285h1V494h-1zM422 305h1V498h-1zM423 306h1V600h-1zM424 331h1V601h-1zM425 290h1V600h-1zM426 290h1V508h-1zM427 329h1V507h-1zM428 338h1V521h-1zM429 337h1V521h-1zM430 313h1V515h-1zM431 313h1V514h-1zM432 330h1V512h-1zM433 330h1V516h-1zM434 335h1V517h-1zM435 347h1V517h-1zM436 311h1V513h-1zM437 306h1V488h-1zM438 297h1V508h-1zM439 296h1V554h-1zM440 296h1V554h-1zM441 349h1V570h-1zM442 300h1V570h-1zM443 300h1V490h-1zM444 301h1V490h-1zM445 332h1V541h-1zM446 203h1V633h-1zM447 203h1V632h-1zM448 203h1V544h-1zM449 313h1V545h-1zM450 299h1V544h-1zM451 299h1V519h-1zM452 299h1V519h-1zM453 279h1V593h-1zM454 279h1V594h-1zM455 270h1V593h-1zM456 270h1V555h-1zM457 271h1V548h-1zM457 549h1V551h-1zM458 281h1V509h-1zM459 281h1V557h-1zM460 271h1V557h-1zM461 271h1V556h-1zM462 275h1V554h-1zM463 301h1V554h-1zM464 302h1V498h-1zM465 311h1V545h-1zM466 302h1V546h-1zM467 302h1V545h-1zM468 313h1V517h-1zM469 330h1V556h-1zM470 333h1V556h-1zM471 183h1V535h-1zM472 182h1V534h-1zM473 183h1V506h-1zM474 339h1V531h-1zM475 282h1V534h-1zM476 282h1V534h-1zM477 301h1V556h-1zM478 325h1V557h-1zM479 321h1V556h-1zM480 321h1V498h-1zM481 322h1V524h-1zM482 336h1V525h-1zM483 325h1V524h-1zM484 306h1V505h-1zM485 305h1V582h-1zM486 306h1V583h-1zM487 318h1V582h-1zM488 318h1V557h-1zM489 313h1V557h-1zM490 313h1V556h-1zM491 318h1V564h-1zM492 287h1V564h-1zM493 287h1V542h-1zM494 288h1V542h-1zM495 260h1V542h-1zM496 260h1V528h-1zM497 260h1V528h-1zM498 312h1V515h-1zM499 319h1V552h-1zM500 320h1V553h-1zM501 284h1V552h-1zM502 280h1V544h-1zM503 150h1V538h-1zM504 150h1V545h-1zM505 150h1V546h-1zM506 282h1V545h-1zM507 283h1V482h-1zM508 348h1V516h-1zM509 316h1V517h-1zM510 315h1V516h-1zM511 316h1V535h-1zM512 327h1V597h-1zM513 246h1V598h-1zM514 245h1V597h-1zM515 342h1V505h-1zM516 320h1V505h-1zM517 319h1V482h-1zM518 183h1V491h-1zM519 183h1V495h-1zM520 184h1V584h-1zM521 295h1V584h-1zM522 295h1V504h-1zM523 351h1V522h-1zM524 369h1V569h-1zM525 339h1V570h-1zM526 306h1V569h-1zM527 291h1V473h-1zM528 291h1V540h-1zM529 327h1V555h-1zM530 310h1V555h-1zM531 296h1V555h-1zM532 296h1V527h-1zM533 342h1V527h-1zM534 342h1V544h-1zM535 292h1V544h-1zM536 292h1V542h-1zM537 315h1V526h-1zM537 527h1V531h-1zM537 534h1V536h-1zM538 309h1V508h-1zM539 308h1V507h-1zM540 308h1V507h-1zM541 308h1V576h-1zM542 327h1V576h-1zM543 296h1V576h-1zM544 295h1V512h-1zM545 295h1V515h-1zM546 295h1V552h-1zM547 295h1V553h-1zM548 242h1V553h-1zM549 242h1V552h-1zM550 291h1V518h-1zM551 292h1V519h-1zM552 331h1V532h-1zM553 331h1V532h-1zM554 307h1V531h-1zM555 306h1V542h-1zM556 306h1V543h-1zM557 326h1V542h-1zM558 314h1V519h-1zM559 309h1V539h-1zM560 309h1V575h-1zM561 310h1V575h-1zM562 312h1V538h-1zM563 332h1V532h-1zM564 332h1V532h-1zM565 273h1V526h-1zM566 273h1V548h-1zM567 274h1V549h-1zM568 333h1V548h-1zM569 322h1V549h-1zM570 124h1V548h-1zM571 124h1V587h-1zM572 237h1V588h-1zM573 238h1V648h-1zM574 359h1V648h-1zM575 351h1V647h-1zM576 337h1V536h-1zM577 226h1V537h-1zM578 225h1V603h-1zM579 226h1V604h-1zM580 300h1V603h-1zM581 312h1V552h-1zM582 290h1V551h-1zM583 289h1V515h-1zM584 290h1V549h-1zM585 303h1V581h-1zM586 304h1V581h-1zM587 294h1V508h-1zM588 294h1V508h-1zM589 357h1V579h-1zM590 359h1V579h-1zM591 345h1V532h-1zM592 296h1V530h-1zM593 296h1V501h-1zM594 306h1V557h-1zM595 306h1V557h-1zM596 235h1V547h-1zM597 234h1V614h-1zM598 234h1V615h-1zM599 256h1V615h-1zM600 257h1V487h-1zM601 314h1V497h-1zM602 351h1V523h-1zM603 360h1V524h-1zM604 347h1V510h-1zM605 307h1V573h-1zM606 306h1V573h-1zM607 305h1V572h-1zM608 305h1V515h-1zM609 322h1V608h-1zM610 233h1V608h-1zM611 233h1V537h-1zM612 312h1V525h-1zM613 312h1V527h-1zM614 325h1V527h-1zM615 302h1V517h-1zM616 302h1V517h-1zM617 295h1V517h-1zM618 199h1V493h-1zM619 199h1V555h-1zM620 260h1V555h-1zM621 259h1V526h-1zM622 260h1V517h-1zM623 311h1V585h-1zM624 264h1V585h-1zM625 264h1V538h-1zM626 285h1V537h-1zM627 286h1V474h-1zM628 308h1V493h-1zM629 263h1V615h-1zM630 263h1V615h-1zM631 320h1V615h-1zM632 319h1V553h-1zM633 320h1V552h-1zM634 304h1V552h-1zM635 303h1V548h-1zM636 305h1V545h-1zM637 329h1V492h-1zM638 330h1V500h-1zM639 331h1V500h-1zM640 322h1V469h-1zM641 321h1V495h-1zM642 303h1V530h-1zM643 292h1V531h-1zM644 291h1V529h-1zM645 230h1V510h-1zM646 229h1V505h-1zM647 230h1V535h-1zM648 320h1V607h-1zM649 303h1V608h-1zM650 303h1V607h-1zM651 304h1V493h-1zM652 293h1V519h-1zM653 293h1V519h-1zM654 293h1V519h-1zM655 293h1V511h-1zM656 339h1V511h-1zM657 294h1V511h-1zM658 293h1V514h-1zM659 294h1V514h-1zM660 303h1V507h-1zM661 303h1V507h-1zM662 290h1V571h-1zM663 290h1V571h-1zM664 291h1V570h-1zM665 303h1V518h-1zM666 302h1V517h-1zM667 281h1V498h-1zM668 280h1V547h-1zM669 280h1V548h-1zM670 299h1V548h-1zM671 300h1V540h-1zM672 311h1V543h-1zM673 311h1V543h-1zM674 301h1V542h-1zM675 301h1V513h-1zM676 301h1V530h-1zM677 307h1V530h-1zM678 306h1V546h-1zM679 306h1V570h-1zM680 352h1V570h-1zM681 309h1V570h-1zM682 306h1V469h-1zM683 305h1V620h-1zM684 305h1V620h-1zM685 365h1V517h-1zM686 274h1V504h-1zM687 273h1V553h-1zM688 274h1V553h-1zM689 292h1V585h-1zM690 322h1V586h-1zM691 321h1V585h-1zM692 322h1V533h-1zM693 335h1V534h-1zM694 310h1V577h-1zM695 309h1V578h-1zM696 310h1V577h-1zM697 343h1V504h-1zM698 320h1V627h-1zM699 319h1V627h-1zM700 320h1V487h-1zM701 323h1V499h-1zM702 331h1V536h-1zM703 331h1V540h-1zM704 290h1V541h-1zM705 289h1V603h-1zM706 290h1V604h-1zM707 302h1V603h-1zM708 302h1V495h-1zM709 304h1V492h-1zM710 335h1V550h-1zM711 309h1V551h-1zM712 308h1V550h-1zM713 309h1V542h-1zM714 354h1V542h-1zM715 355h1V496h-1zM716 356h1V496h-1zM717 356h1V479h-1zM718 312h1V504h-1zM719 311h1V543h-1zM720 312h1V544h-1zM721 282h1V564h-1zM722 282h1V564h-1zM723 267h1V564h-1zM724 267h1V530h-1zM725 267h1V543h-1zM726 323h1V544h-1zM727 310h1V544h-1zM728 310h1V551h-1zM729 267h1V552h-1zM730 267h1V492h-1zM731 268h1V495h-1zM732 322h1V530h-1zM733 308h1V530h-1zM734 308h1V529h-1zM735 309h1V589h-1zM736 206h1V589h-1zM737 206h1V588h-1zM738 206h1V544h-1zM739 326h1V546h-1zM740 312h1V547h-1zM741 311h1V546h-1zM742 312h1V517h-1zM743 240h1V584h-1zM744 240h1V584h-1zM745 297h1V583h-1zM746 268h1V544h-1zM747 268h1V587h-1zM748 291h1V587h-1zM749 291h1V533h-1zM750 332h1V532h-1zM751 315h1V533h-1zM752 282h1V634h-1zM753 282h1V634h-1zM754 282h1V508h-1zM755 309h1V508h-1zM756 309h1V507h-1zM757 335h1V493h-1zM758 335h1V524h-1zM759 353h1V576h-1zM760 320h1V577h-1zM761 310h1V576h-1zM762 275h1V544h-1zM763 275h1V543h-1zM764 276h1V509h-1zM765 324h1V510h-1zM766 310h1V511h-1zM767 309h1V567h-1zM768 267h1V567h-1zM769 266h1V566h-1zM770 266h1V554h-1zM771 342h1V539h-1zM772 317h1V539h-1zM773 317h1V517h-1zM774 331h1V583h-1zM775 311h1V584h-1zM776 311h1V583h-1zM777 282h1V513h-1zM778 282h1V532h-1zM779 310h1V605h-1zM780 244h1V606h-1zM781 244h1V605h-1zM782 244h1V536h-1zM783 321h1V497h-1zM784 321h1V547h-1zM785 321h1V548h-1zM786 254h1V558h-1zM786 559h1V566h-1zM787 254h1V568h-1zM788 341h1V568h-1zM789 327h1V543h-1zM790 266h1V591h-1zM791 265h1V591h-1zM792 266h1V516h-1zM793 296h1V501h-1zM794 297h1V499h-1zM795 318h1V557h-1zM796 319h1V557h-1zM797 327h1V556h-1zM798 326h1V516h-1zM799 326h1V563h-1zM800 312h1V563h-1zM801 312h1V552h-1zM802 312h1V552h-1zM803 338h1V486h-1zM803 497h1V498h-1zM804 349h1V549h-1zM805 349h1V550h-1zM806 349h1V555h-1zM807 298h1V555h-1zM808 272h1V554h-1zM809 271h1V587h-1zM810 272h1V587h-1zM811 338h1V587h-1zM812 305h1V535h-1zM813 304h1V509h-1zM814 304h1V509h-1zM815 321h1V510h-1zM816 351h1V490h-1zM817 348h1V494h-1zM818 322h1V535h-1zM819 321h1V564h-1zM820 322h1V564h-1zM821 238h1V563h-1zM822 237h1V479h-1zM823 238h1V536h-1zM824 310h1V536h-1zM825 294h1V536h-1zM826 294h1V526h-1zM827 295h1V526h-1zM828 359h1V555h-1zM829 358h1V555h-1zM830 355h1V554h-1zM831 342h1V511h-1zM832 259h1V511h-1zM833 259h1V510h-1zM834 260h1V539h-1zM835 325h1V540h-1zM836 299h1V539h-1zM837 300h1V537h-1zM838 317h1V613h-1zM839 305h1V613h-1zM840 305h1V613h-1zM841 300h1V511h-1zM842 300h1V521h-1zM843 354h1V521h-1zM844 267h1V520h-1zM845 267h1V469h-1zM846 281h1V546h-1zM847 282h1V607h-1zM848 283h1V608h-1zM849 286h1V607h-1zM850 288h1V502h-1zM851 292h1V501h-1zM852 290h1V492h-1zM853 289h1V574h-1zM854 289h1V574h-1zM855 327h1V528h-1zM856 327h1V527h-1zM857 174h1V558h-1zM858 173h1V558h-1zM859 174h1V523h-1zM859 528h1V557h-1zM860 321h1V538h-1zM861 323h1V538h-1zM862 324h1V537h-1zM863 268h1V653h-1zM864 267h1V654h-1zM865 268h1V653h-1zM866 311h1V516h-1zM867 311h1V534h-1zM868 296h1V535h-1zM869 285h1V535h-1zM870 284h1V518h-1zM871 285h1V518h-1zM872 297h1V509h-1zM873 308h1V563h-1zM874 309h1V563h-1zM875 323h1V520h-1zM876 323h1V516h-1zM877 323h1V528h-1zM878 323h1V529h-1zM879 320h1V533h-1zM880 270h1V542h-1zM881 269h1V542h-1zM882 270h1V508h-1zM883 325h1V532h-1zM884 314h1V533h-1zM885 229h1V532h-1zM886 229h1V551h-1zM887 230h1V554h-1zM888 296h1V555h-1zM889 296h1V555h-1zM890 300h1V554h-1zM891 299h1V521h-1zM892 280h1V522h-1zM893 280h1V557h-1zM894 280h1V557h-1zM895 334h1V557h-1zM896 334h1V554h-1zM897 334h1V586h-1zM898 341h1V586h-1zM899 342h1V529h-1zM900 322h1V545h-1zM901 322h1V545h-1zM902 323h1V530h-1zM903 315h1V530h-1zM904 300h1V530h-1zM905 299h1V523h-1zM906 300h1V551h-1zM907 306h1V553h-1zM908 320h1V553h-1zM909 267h1V553h-1zM910 267h1V518h-1zM911 268h1V613h-1zM912 254h1V613h-1zM913 254h1V512h-1zM914 340h1V515h-1zM915 343h1V515h-1zM916 344h1V515h-1zM917 235h1V514h-1zM918 234h1V561h-1zM919 235h1V563h-1zM920 309h1V562h-1zM921 309h1V528h-1zM922 310h1V538h-1zM923 323h1V538h-1zM924 298h1V538h-1zM925 298h1V517h-1zM926 298h1V516h-1zM927 307h1V512h-1zM928 308h1V494h-1zM929 320h1V528h-1zM930 320h1V528h-1zM931 297h1V576h-1zM932 297h1V576h-1zM933 298h1V520h-1zM934 323h1V520h-1zM935 323h1V523h-1zM936 285h1V528h-1zM937 163h1V528h-1zM938 162h1V521h-1zM939 330h1V570h-1zM940 330h1V570h-1zM941 291h1V509h-1zM942 290h1V519h-1zM942 530h1V534h-1zM943 291h1V535h-1zM944 306h1V535h-1zM945 307h1V569h-1zM946 310h1V568h-1zM947 290h1V516h-1zM948 289h1V519h-1zM949 289h1V520h-1zM950 302h1V648h-1zM951 303h1V648h-1zM952 308h1V647h-1zM953 304h1V511h-1zM954 303h1V512h-1zM955 282h1V612h-1zM956 282h1V613h-1zM957 282h1V613h-1zM958 270h1V547h-1zM959 270h1V511h-1zM960 270h1V475h-1zM961 325h1V538h-1zM962 350h1V538h-1zM963 351h1V538h-1zM964 331h1V541h-1zM965 332h1V559h-1zM966 354h1V560h-1zM967 311h1V559h-1zM968 310h1V531h-1zM969 310h1V527h-1zM970 317h1V527h-1zM971 308h1V526h-1zM972 307h1V581h-1zM973 308h1V581h-1zM974 327h1V581h-1zM975 333h1V528h-1zM976 294h1V486h-1zM977 293h1V490h-1zM978 293h1V519h-1zM979 297h1V520h-1zM980 305h1V520h-1zM981 306h1V515h-1zM982 291h1V516h-1zM983 290h1V515h-1zM984 235h1V517h-1zM985 235h1V562h-1zM986 286h1V563h-1zM987 290h1V562h-1zM988 314h1V543h-1zM989 315h1V496h-1zM990 339h1V524h-1zM991 334h1V548h-1zM992 333h1V550h-1zM993 282h1V550h-1zM994 281h1V539h-1zM995 281h1V539h-1zM996 304h1V539h-1zM997 304h1V531h-1zM998 256h1V573h-1zM999 255h1V573h-1zM1000 256h1V572h-1zM1001 294h1V496h-1zM1002 313h1V578h-1zM1003 313h1V578h-1zM1004 314h1V521h-1zM1005 353h1V521h-1zM1006 352h1V529h-1zM1007 353h1V530h-1zM1008 345h1V529h-1zM1009 344h1V589h-1zM1010 292h1V590h-1zM1011 292h1V590h-1zM1012 332h1V552h-1zM1013 281h1V578h-1zM1014 280h1V578h-1zM1015 280h1V577h-1zM1016 286h1V522h-1zM1017 237h1V529h-1zM1018 237h1V530h-1zM1019 328h1V530h-1zM1020 328h1V525h-1zM1021 316h1V525h-1zM1022 315h1V517h-1zM1023 316h1V503h-1zM1024 327h1V492h-1zM1024 504h1V523h-1zM1025 327h1V525h-1zM1026 328h1V524h-1zM1027 345h1V509h-1zM1028 320h1V512h-1zM1029 319h1V512h-1zM1030 320h1V560h-1zM1031 315h1V560h-1zM1032 315h1V559h-1zM1033 292h1V511h-1zM1034 291h1V586h-1zM1035 292h1V587h-1zM1036 317h1V586h-1zM1037 318h1V533h-1zM1038 322h1V533h-1zM1039 343h1V639h-1zM1040 328h1V640h-1zM1041 328h1V639h-1zM1042 328h1V602h-1zM1043 337h1V602h-1zM1044 309h1V545h-1zM1045 306h1V528h-1zM1046 305h1V528h-1zM1047 293h1V626h-1zM1048 292h1V627h-1zM1049 292h1V627h-1zM1050 313h1V550h-1zM1051 331h1V339h-1zM1051 349h1V549h-1zM1052 310h1V580h-1zM1053 310h1V580h-1zM1054 312h1V579h-1zM1055 326h1V525h-1zM1056 227h1V525h-1zM1057 226h1V524h-1zM1058 227h1V533h-1zM1059 331h1V534h-1zM1060 331h1V534h-1zM1061 332h1V546h-1zM1062 336h1V547h-1zM1063 336h1V547h-1zM1064 337h1V546h-1zM1065 337h1V469h-1zM1066 341h1V525h-1zM1067 298h1V525h-1zM1068 297h1V538h-1zM1069 298h1V644h-1zM1070 309h1V644h-1zM1071 309h1V548h-1zM1072 310h1V547h-1zM1073 273h1V538h-1zM1074 272h1V638h-1zM1075 273h1V639h-1zM1076 334h1V639h-1zM1077 336h1V545h-1zM1078 337h1V546h-1zM1079 350h1V546h-1zM1080 351h1V567h-1zM1081 355h1V568h-1zM1082 354h1V567h-1zM1083 344h1V525h-1zM1084 317h1V526h-1zM1085 315h1V525h-1zM1086 293h1V537h-1zM1087 293h1V537h-1zM1088 302h1V536h-1zM1089 322h1V535h-1zM1090 298h1V539h-1zM1091 298h1V554h-1zM1092 299h1V554h-1zM1093 308h1V532h-1zM1094 325h1V532h-1zM1095 325h1V488h-1zM1096 311h1V538h-1zM1097 311h1V539h-1zM1098 322h1V538h-1zM1099 303h1V509h-1zM1100 303h1V508h-1zM1101 287h1V511h-1zM1102 286h1V511h-1zM1103 251h1V510h-1zM1104 251h1V555h-1zM1105 280h1V556h-1zM1106 280h1V573h-1zM1107 307h1V573h-1zM1108 341h1V523h-1zM1109 347h1V523h-1zM1110 283h1V532h-1zM1111 282h1V532h-1zM1112 283h1V510h-1zM1113 318h1V509h-1zM1114 335h1V533h-1zM1115 344h1V534h-1zM1116 352h1V533h-1zM1117 354h1V510h-1zM1118 278h1V509h-1zM1119 277h1V502h-1zM1120 277h1V501h-1zM1121 280h1V490h-1zM1122 281h1V616h-1zM1123 308h1V617h-1zM1124 309h1V616h-1zM1125 320h1V516h-1zM1126 351h1V516h-1zM1127 307h1V519h-1zM1128 307h1V522h-1zM1129 273h1V522h-1zM1130 273h1V543h-1zM1131 273h1V544h-1zM1132 300h1V543h-1zM1133 286h1V564h-1zM1134 285h1V564h-1zM1135 285h1V563h-1zM1136 286h1V570h-1zM1137 293h1V571h-1zM1138 289h1V571h-1zM1139 288h1V490h-1zM1140 264h1V531h-1zM1141 265h1V608h-1zM1142 313h1V608h-1zM1143 313h1V523h-1zM1144 314h1V559h-1zM1145 311h1V559h-1zM1146 311h1V534h-1zM1147 296h1V533h-1zM1148 294h1V500h-1zM1149 295h1V497h-1zM1150 349h1V500h-1zM1151 350h1V501h-1zM1152 266h1V501h-1zM1153 266h1V557h-1zM1154 327h1V558h-1zM1155 327h1V557h-1zM1156 312h1V551h-1zM1157 264h1V539h-1zM1158 262h1V539h-1zM1159 263h1V494h-1zM1160 227h1V550h-1zM1161 227h1V550h-1zM1162 228h1V516h-1zM1163 297h1V534h-1zM1164 328h1V534h-1zM1165 328h1V533h-1zM1166 286h1V511h-1zM1167 286h1V503h-1zM1168 287h1V503h-1zM1169 299h1V503h-1zM1170 313h1V538h-1zM1171 314h1V544h-1zM1172 294h1V545h-1zM1173 293h1V544h-1zM1174 294h1V516h-1zM1175 302h1V529h-1zM1176 301h1V530h-1zM1177 301h1V529h-1zM1178 330h1V548h-1zM1179 313h1V563h-1zM1180 312h1V563h-1zM1181 288h1V563h-1zM1182 287h1V542h-1zM1183 288h1V575h-1zM1184 266h1V576h-1zM1185 265h1V575h-1zM1186 265h1V537h-1zM1187 251h1V547h-1zM1188 251h1V547h-1zM1189 252h1V567h-1zM1190 273h1V568h-1zM1191 272h1V567h-1zM1192 272h1V549h-1zM1193 290h1V555h-1zM1194 293h1V555h-1zM1195 314h1V540h-1zM1196 314h1V540h-1zM1197 244h1V557h-1zM1198 243h1V557h-1zM1199 244h1V556h-1zM1200 293h1V583h-1zM1201 293h1V584h-1zM1202 293h1V584h-1zM1203 319h1V492h-1zM1204 293h1V534h-1zM1205 250h1V535h-1zM1206 250h1V534h-1zM1207 250h1V535h-1zM1208 362h1V536h-1zM1209 307h1V535h-1zM1210 306h1V502h-1zM1211 307h1V535h-1zM1212 329h1V535h-1zM1213 295h1V534h-1zM1214 269h1V539h-1zM1215 269h1V540h-1zM1216 283h1V549h-1zM1217 283h1V549h-1zM1218 284h1V545h-1zM1219 302h1V544h-1zM1220 228h1V533h-1zM1221 227h1V507h-1zM1222 229h1V512h-1zM1223 311h1V593h-1zM1224 311h1V593h-1zM1225 243h1V537h-1zM1226 243h1V537h-1zM1227 243h1V536h-1zM1228 285h1V485h-1zM1229 284h1V529h-1zM1230 284h1V547h-1zM1231 321h1V561h-1zM1232 365h1V561h-1zM1233 311h1V561h-1zM1234 311h1V502h-1zM1235 311h1V533h-1zM1236 338h1V533h-1zM1237 297h1V532h-1zM1238 297h1V550h-1zM1239 297h1V551h-1zM1240 369h1V550h-1zM1241 323h1V511h-1zM1242 323h1V516h-1zM1243 323h1V573h-1zM1244 243h1V573h-1zM1245 242h1V572h-1zM1246 243h1V531h-1zM1247 298h1V531h-1zM1248 297h1V521h-1zM1249 298h1V547h-1zM1250 352h1V548h-1zM1251 329h1V547h-1zM1252 329h1V533h-1zM1253 330h1V533h-1zM1254 310h1V530h-1zM1255 264h1V557h-1zM1256 264h1V563h-1zM1257 307h1V564h-1zM1258 306h1V563h-1zM1259 306h1V536h-1zM1260 321h1V503h-1zM1261 307h1V504h-1zM1262 307h1V503h-1zM1263 307h1V503h-1zM1264 345h1V549h-1zM1265 344h1V549h-1zM1266 341h1V548h-1zM1267 340h1V584h-1zM1268 310h1V584h-1zM1269 299h1V584h-1zM1270 298h1V560h-1zM1271 285h1V560h-1zM1272 285h1V559h-1zM1273 173h1V553h-1zM1274 173h1V553h-1zM1275 297h1V552h-1zM1276 296h1V532h-1zM1277 297h1V531h-1zM1278 334h1V506h-1zM1279 333h1V524h-1zM1280 324h1V524h-1zM1281 288h1V524h-1zM1282 285h1V538h-1zM1283 284h1V539h-1zM1284 285h1V539h-1zM1285 332h1V574h-1zM1286 336h1V575h-1zM1287 338h1V574h-1zM1288 344h1V517h-1zM1289 317h1V509h-1zM1290 316h1V513h-1zM1291 317h1V535h-1zM1292 305h1V535h-1zM1293 304h1V552h-1zM1294 300h1V552h-1zM1295 201h1V551h-1zM1296 201h1V537h-1zM1297 294h1V582h-1zM1298 335h1V583h-1zM1299 334h1V582h-1zM1300 310h1V544h-1zM1301 309h1V517h-1zM1302 309h1V531h-1zM1303 334h1V532h-1zM1304 334h1V577h-1zM1305 327h1V578h-1zM1306 326h1V577h-1zM1307 305h1V531h-1zM1308 304h1V492h-1zM1309 306h1V535h-1zM1310 291h1V535h-1zM1311 290h1V511h-1zM1312 290h1V588h-1zM1313 236h1V589h-1zM1314 236h1V589h-1zM1315 239h1V527h-1zM1316 239h1V540h-1zM1317 292h1V540h-1zM1318 293h1V483h-1zM1319 307h1V683h-1zM1320 307h1V683h-1zM1321 322h1V682h-1zM1322 323h1V507h-1zM1323 326h1V532h-1zM1324 326h1V559h-1zM1325 307h1V559h-1zM1326 306h1V526h-1zM1327 298h1V526h-1zM1328 298h1V536h-1zM1329 299h1V537h-1zM1330 334h1V560h-1zM1331 335h1V560h-1zM1332 342h1V540h-1zM1333 342h1V539h-1zM1334 303h1V539h-1zM1335 296h1V538h-1zM1336 295h1V517h-1zM1337 296h1V637h-1zM1338 304h1V638h-1zM1339 302h1V638h-1zM1340 303h1V621h-1zM1341 318h1V622h-1zM1342 303h1V621h-1zM1343 303h1V532h-1zM1344 300h1V530h-1zM1345 263h1V613h-1zM1346 263h1V613h-1zM1347 331h1V613h-1zM1348 250h1V530h-1zM1349 249h1V530h-1zM1350 250h1V544h-1zM1351 299h1V545h-1zM1352 300h1V545h-1zM1353 292h1V530h-1zM1354 291h1V520h-1zM1355 285h1V521h-1zM1356 286h1V548h-1zM1357 304h1V548h-1zM1358 326h1V490h-1zM1359 327h1V529h-1zM1360 294h1V530h-1zM1361 293h1V529h-1zM1362 292h1V535h-1zM1363 293h1V536h-1zM1364 343h1V535h-1zM1365 319h1V518h-1zM1366 253h1V517h-1zM1367 253h1V579h-1zM1368 254h1V580h-1zM1369 310h1V578h-1zM1370 310h1V511h-1zM1371 314h1V533h-1zM1372 305h1V533h-1zM1373 305h1V532h-1zM1374 306h1V528h-1zM1375 327h1V577h-1zM1376 328h1V578h-1zM1377 283h1V577h-1zM1378 239h1V505h-1zM1379 239h1V574h-1zM1379 575h1V577h-1zM1380 239h1V613h-1zM1381 238h1V613h-1zM1382 239h1V541h-1zM1383 355h1V549h-1zM1384 266h1V549h-1zM1385 265h1V548h-1zM1386 266h1V515h-1zM1387 306h1V515h-1zM1388 306h1V581h-1zM1389 306h1V582h-1zM1390 284h1V582h-1zM1391 283h1V505h-1zM1392 352h1V354h-1zM1392 355h1V494h-1zM1393 357h1V504h-1zM1394 358h1V536h-1zM1395 311h1V537h-1zM1396 310h1V537h-1zM1397 240h1V515h-1zM1398 240h1V547h-1zM1399 240h1V547h-1zM1400 283h1V546h-1zM1401 284h1V524h-1zM1402 300h1V540h-1zM1403 315h1V541h-1zM1404 303h1V540h-1zM1405 303h1V555h-1zM1406 304h1V555h-1zM1407 304h1V485h-1zM1408 303h1V500h-1zM1409 257h1V612h-1zM1410 257h1V613h-1zM1411 257h1V613h-1zM1412 319h1V515h-1zM1413 320h1V516h-1zM1414 331h1V515h-1zM1415 338h1V501h-1zM1416 263h1V499h-1zM1417 263h1V499h-1zM1418 263h1V530h-1zM1419 283h1V530h-1zM1420 358h1V500h-1zM1421 283h1V499h-1zM1422 282h1V511h-1zM1423 283h1V585h-1zM1424 343h1V586h-1zM1425 333h1V586h-1zM1426 330h1V554h-1zM1427 316h1V534h-1zM1428 268h1V537h-1zM1429 268h1V538h-1zM1430 307h1V538h-1zM1431 301h1V474h-1zM1432 301h1V511h-1zM1433 300h1V512h-1zM1434 300h1V511h-1zM1435 316h1V491h-1zM1436 317h1V582h-1zM1437 309h1V583h-1zM1438 309h1V583h-1zM1439 310h1V545h-1z" fill="#4C72B0" fill-opacity="0.321"/>
<path d="M200 315h1V469h-1zM201 291h1V539h-1zM202 290h1V538h-1zM203 291h1V496h-1zM204 345h1V493h-1zM205 344h1V535h-1zM206 344h1V535h-1zM207 317h1V511h-1zM208 317h1V534h-1zM209 342h1V535h-1zM210 264h1V574h-1zM211 264h1V574h-1zM212 300h1V574h-1zM213 299h1V541h-1zM214 299h1V542h-1zM215 303h1V541h-1zM216 369h1V562h-1zM217 369h1V563h-1zM218 369h1V563h-1zM219 355h1V500h-1zM220 354h1V501h-1zM221 222h1V513h-1zM222 222h1V512h-1zM223 223h1V510h-1zM224 336h1V510h-1zM225 265h1V499h-1zM226 265h1V499h-1zM227 291h1V512h-1zM228 291h1V512h-1zM229 340h1V511h-1zM230 315h1V530h-1zM231 315h1V530h-1zM232 235h1V581h-1zM233 234h1V581h-1zM234 235h1V490h-1zM234 497h1V515h-1zM235 312h1V489h-1zM236 311h1V507h-1zM237 311h1V536h-1zM238 204h1V536h-1zM239 204h1V545h-1zM240 283h1V546h-1zM241 283h1V515h-1zM242 298h1V540h-1zM243 298h1V546h-1zM244 294h1V547h-1zM245 293h1V546h-1zM246 290h1V524h-1zM247 289h1V526h-1zM248 290h1V546h-1zM249 316h1V552h-1zM250 316h1V552h-1zM251 254h1V551h-1zM252 254h1V552h-1zM253 309h1V552h-1zM254 309h1V537h-1zM255 322h1V507h-1zM256 326h1V508h-1zM257 318h1V521h-1zM258 318h1V531h-1zM259 294h1V555h-1zM260 294h1V555h-1zM261 339h1V550h-1zM262 326h1V580h-1zM263 315h1V580h-1zM264 311h1V580h-1zM265 311h1V538h-1zM266 293h1V538h-1zM267 293h1V527h-1zM268 303h1V528h-1zM269 333h1V527h-1zM270 333h1V518h-1zM271 336h1V565h-1zM272 336h1V565h-1zM273 324h1V565h-1zM274 264h1V541h-1zM275 263h1V556h-1zM276 264h1V556h-1zM277 322h1V516h-1zM277 523h1V524h-1zM278 322h1V543h-1zM279 316h1V557h-1zM280 315h1V558h-1zM281 316h1V557h-1zM282 345h1V512h-1zM283 289h1V488h-1zM284 289h1V470h-1zM285 341h1V492h-1zM286 341h1V552h-1zM287 335h1V553h-1zM288 297h1V553h-1zM289 297h1V587h-1zM290 297h1V587h-1zM291 298h1V587h-1zM292 318h1V515h-1zM293 318h1V542h-1zM294 295h1V543h-1zM295 294h1V542h-1zM296 215h1V619h-1zM297 215h1V619h-1zM298 284h1V500h-1zM299 284h1V495h-1zM300 323h1V549h-1zM301 323h1V549h-1zM302 309h1V499h-1zM303 309h1V501h-1zM304 317h1V551h-1zM305 317h1V552h-1zM306 335h1V551h-1zM307 322h1V513h-1zM308 322h1V521h-1zM309 306h1V540h-1zM310 305h1V573h-1zM311 307h1V573h-1zM312 323h1V543h-1zM313 288h1V530h-1zM314 287h1V529h-1zM315 316h1V530h-1zM316 301h1V530h-1zM317 300h1V543h-1zM318 300h1V551h-1zM319 251h1V552h-1zM320 251h1V553h-1zM321 294h1V554h-1zM322 310h1V553h-1zM323 310h1V531h-1zM324 302h1V551h-1zM325 302h1V551h-1zM326 314h1V550h-1zM327 314h1V548h-1zM328 298h1V548h-1zM329 298h1V547h-1zM330 299h1V527h-1zM331 337h1V494h-1zM332 306h1V500h-1zM333 305h1V501h-1zM334 306h1V500h-1zM335 329h1V498h-1zM336 339h1V498h-1zM337 338h1V493h-1zM338 341h1V500h-1zM339 323h1V500h-1zM340 323h1V500h-1zM341 296h1V501h-1zM342 296h1V501h-1zM343 315h1V501h-1zM344 324h1V485h-1zM345 305h1V483h-1zM346 288h1V516h-1zM347 228h1V516h-1zM348 228h1V485h-1zM349 316h1V486h-1zM350 316h1V495h-1zM351 316h1V566h-1zM352 316h1V566h-1zM353 315h1V565h-1zM354 281h1V519h-1zM355 281h1V507h-1zM356 354h1V508h-1zM357 354h1V507h-1zM358 325h1V531h-1zM359 300h1V539h-1zM360 299h1V539h-1zM361 300h1V537h-1zM362 297h1V504h-1zM363 291h1V553h-1zM364 290h1V554h-1zM365 291h1V554h-1zM366 286h1V547h-1zM367 281h1V548h-1zM368 281h1V616h-1zM369 282h1V616h-1zM370 285h1V512h-1zM371 284h1V543h-1zM372 285h1V543h-1zM373 253h1V535h-1zM374 253h1V516h-1zM375 254h1V515h-1zM376 318h1V512h-1zM377 346h1V513h-1zM378 343h1V536h-1zM379 342h1V535h-1zM380 335h1V529h-1zM381 335h1V530h-1zM382 342h1V529h-1zM383 311h1V528h-1zM384 255h1V527h-1zM385 255h1V596h-1zM386 280h1V596h-1zM387 231h1V595h-1zM388 231h1V526h-1zM389 232h1V527h-1zM390 296h1V527h-1zM391 296h1V518h-1zM392 325h1V518h-1zM393 324h1V492h-1zM394 325h1V493h-1zM395 328h1V508h-1zM396 283h1V536h-1zM397 283h1V601h-1zM398 313h1V602h-1zM399 301h1V601h-1zM400 301h1V533h-1zM401 302h1V533h-1zM402 339h1V601h-1zM403 369h1V601h-1zM404 333h1V600h-1zM405 334h1V544h-1zM406 350h1V545h-1zM407 210h1V544h-1zM408 209h1V531h-1zM409 211h1V531h-1zM410 333h1V573h-1zM411 228h1V573h-1zM412 229h1V506h-1zM413 305h1V506h-1zM414 305h1V525h-1zM415 306h1V539h-1zM416 362h1V539h-1zM417 306h1V321h-1zM417 325h1V534h-1zM418 304h1V535h-1zM419 286h1V534h-1zM420 285h1V485h-1zM421 285h1V494h-1zM422 305h1V498h-1zM423 306h1V600h-1zM424 331h1V601h-1zM425 290h1V600h-1zM426 290h1V508h-1zM427 329h1V507h-1zM428 338h1V521h-1zM429 338h1V521h-1zM430 313h1V515h-1zM431 313h1V514h-1zM432 330h1V509h-1zM433 330h1V516h-1zM434 335h1V517h-1zM435 347h1V516h-1zM436 311h1V482h-1zM437 306h1V488h-1zM438 305h1V508h-1zM439 296h1V554h-1zM440 297h1V554h-1zM441 349h1V570h-1zM442 300h1V570h-1zM443 300h1V490h-1zM444 301h1V322h-1zM444 331h1V489h-1zM445 332h1V540h-1zM446 203h1V632h-1zM447 203h1V632h-1zM448 203h1V544h-1zM449 313h1V545h-1zM450 299h1V544h-1zM451 299h1V519h-1zM452 300h1V518h-1zM453 280h1V593h-1zM454 279h1V593h-1zM455 270h1V593h-1zM456 270h1V555h-1zM457 271h1V510h-1zM458 282h1V509h-1zM459 281h1V556h-1zM460 272h1V557h-1zM461 271h1V539h-1zM462 301h1V554h-1zM463 302h1V554h-1zM464 303h1V497h-1zM465 311h1V545h-1zM466 303h1V545h-1zM467 303h1V545h-1zM468 313h1V516h-1zM469 330h1V555h-1zM470 334h1V555h-1zM471 183h1V535h-1zM472 183h1V520h-1zM472 526h1V534h-1zM473 183h1V505h-1zM474 340h1V531h-1zM475 282h1V534h-1zM476 282h1V534h-1zM477 301h1V556h-1zM478 325h1V557h-1zM479 322h1V556h-1zM480 321h1V497h-1zM481 322h1V524h-1zM482 336h1V525h-1zM483 325h1V524h-1zM484 307h1V504h-1zM485 306h1V582h-1zM486 306h1V582h-1zM487 319h1V581h-1zM488 319h1V557h-1zM489 313h1V557h-1zM490 313h1V495h-1zM491 319h1V564h-1zM492 288h1V564h-1zM493 287h1V541h-1zM494 288h1V542h-1zM495 261h1V542h-1zM496 260h1V528h-1zM497 260h1V528h-1zM498 312h1V514h-1zM499 319h1V552h-1zM500 320h1V552h-1zM501 312h1V552h-1zM502 281h1V544h-1zM503 150h1V538h-1zM504 150h1V545h-1zM505 151h1V545h-1zM506 282h1V545h-1zM507 283h1V482h-1zM508 349h1V516h-1zM509 316h1V517h-1zM510 316h1V516h-1zM511 316h1V535h-1zM512 327h1V597h-1zM513 246h1V597h-1zM514 246h1V597h-1zM515 343h1V504h-1zM516 320h1V504h-1zM517 319h1V482h-1zM518 184h1V491h-1zM519 183h1V494h-1zM520 184h1V584h-1zM521 295h1V584h-1zM522 295h1V504h-1zM523 352h1V502h-1zM524 369h1V568h-1zM525 339h1V569h-1zM526 306h1V569h-1zM527 291h1V473h-1zM528 291h1V504h-1zM529 327h1V555h-1zM530 310h1V555h-1zM531 297h1V555h-1zM532 296h1V526h-1zM533 343h1V526h-1zM534 343h1V544h-1zM535 292h1V544h-1zM536 292h1V542h-1zM537 316h1V508h-1zM538 314h1V508h-1zM539 308h1V506h-1zM540 308h1V506h-1zM541 309h1V576h-1zM542 327h1V576h-1zM543 296h1V576h-1zM544 295h1V512h-1zM545 295h1V515h-1zM546 295h1V530h-1zM546 551h1V552h-1zM547 295h1V553h-1zM548 242h1V552h-1zM549 242h1V551h-1zM550 292h1V517h-1zM551 292h1V518h-1zM552 331h1V532h-1zM553 331h1V532h-1zM554 307h1V510h-1zM555 306h1V542h-1zM556 306h1V542h-1zM557 327h1V522h-1zM558 314h1V519h-1zM559 310h1V539h-1zM560 309h1V575h-1zM561 310h1V575h-1zM562 312h1V538h-1zM563 332h1V532h-1zM564 332h1V531h-1zM565 274h1V525h-1zM566 273h1V548h-1zM567 274h1V549h-1zM568 336h1V548h-1zM569 323h1V548h-1zM570 124h1V548h-1zM571 124h1V532h-1zM572 237h1V587h-1zM573 238h1V647h-1zM574 360h1V648h-1zM575 351h1V646h-1zM576 338h1V517h-1zM577 226h1V537h-1zM578 226h1V603h-1zM579 226h1V603h-1zM580 300h1V603h-1zM581 312h1V552h-1zM582 290h1V551h-1zM583 289h1V515h-1zM584 290h1V549h-1zM585 304h1V581h-1zM586 305h1V581h-1zM587 294h1V508h-1zM588 294h1V508h-1zM589 358h1V578h-1zM590 359h1V578h-1zM591 345h1V531h-1zM592 296h1V502h-1zM593 296h1V501h-1zM594 306h1V557h-1zM595 306h1V557h-1zM596 235h1V546h-1zM597 234h1V536h-1zM597 544h1V613h-1zM598 235h1V615h-1zM599 256h1V614h-1zM600 257h1V486h-1zM601 314h1V496h-1zM602 351h1V523h-1zM603 360h1V523h-1zM604 347h1V510h-1zM605 307h1V573h-1zM606 306h1V573h-1zM607 305h1V572h-1zM608 306h1V515h-1zM609 322h1V608h-1zM610 233h1V608h-1zM611 233h1V537h-1zM612 313h1V520h-1zM613 313h1V527h-1zM614 325h1V526h-1zM615 303h1V516h-1zM616 302h1V517h-1zM617 296h1V517h-1zM618 199h1V493h-1zM619 199h1V555h-1zM620 305h1V555h-1zM621 260h1V525h-1zM622 260h1V516h-1zM623 312h1V585h-1zM624 264h1V585h-1zM625 264h1V538h-1zM626 285h1V537h-1zM627 289h1V474h-1zM628 309h1V493h-1zM629 263h1V615h-1zM630 263h1V615h-1zM631 321h1V614h-1zM632 320h1V553h-1zM633 320h1V552h-1zM634 304h1V551h-1zM635 304h1V547h-1zM636 321h1V544h-1zM637 330h1V492h-1zM638 331h1V499h-1zM639 331h1V499h-1zM640 330h1V469h-1zM641 321h1V494h-1zM642 303h1V530h-1zM643 292h1V300h-1zM643 302h1V530h-1zM644 291h1V511h-1zM645 231h1V510h-1zM646 230h1V505h-1zM647 230h1V504h-1zM648 320h1V607h-1zM649 303h1V607h-1zM650 303h1V606h-1zM651 338h1V492h-1zM652 293h1V519h-1zM653 293h1V519h-1zM654 293h1V518h-1zM655 293h1V511h-1zM656 339h1V511h-1zM657 294h1V510h-1zM658 294h1V514h-1zM659 294h1V514h-1zM660 304h1V507h-1zM661 303h1V507h-1zM662 290h1V571h-1zM663 290h1V571h-1zM664 310h1V518h-1zM665 303h1V518h-1zM666 302h1V512h-1zM666 513h1V515h-1zM667 281h1V498h-1zM668 280h1V547h-1zM669 281h1V548h-1zM670 300h1V548h-1zM671 300h1V539h-1zM672 312h1V543h-1zM673 311h1V543h-1zM674 302h1V542h-1zM675 301h1V512h-1zM676 302h1V529h-1zM677 307h1V530h-1zM678 306h1V546h-1zM679 307h1V569h-1zM680 352h1V570h-1zM681 310h1V570h-1zM682 306h1V469h-1zM683 305h1V620h-1zM684 306h1V620h-1zM685 366h1V517h-1zM686 274h1V504h-1zM687 274h1V552h-1zM688 274h1V552h-1zM689 309h1V585h-1zM690 322h1V586h-1zM691 322h1V585h-1zM692 322h1V533h-1zM693 335h1V534h-1zM694 310h1V577h-1zM695 309h1V578h-1zM696 310h1V577h-1zM697 349h1V504h-1zM698 321h1V627h-1zM699 320h1V627h-1zM700 320h1V487h-1zM701 323h1V498h-1zM702 332h1V536h-1zM703 331h1V537h-1zM704 290h1V541h-1zM705 289h1V603h-1zM706 290h1V603h-1zM707 303h1V602h-1zM708 303h1V495h-1zM709 304h1V492h-1zM710 335h1V550h-1zM711 309h1V550h-1zM712 309h1V547h-1zM713 310h1V542h-1zM714 354h1V541h-1zM715 356h1V496h-1zM716 357h1V496h-1zM717 356h1V479h-1zM718 312h1V503h-1zM719 311h1V543h-1zM720 312h1V544h-1zM721 283h1V564h-1zM722 282h1V564h-1zM723 267h1V563h-1zM724 267h1V530h-1zM725 268h1V531h-1zM726 324h1V544h-1zM727 310h1V544h-1zM728 310h1V551h-1zM729 268h1V551h-1zM730 267h1V479h-1zM731 268h1V495h-1zM732 322h1V530h-1zM733 309h1V530h-1zM734 308h1V514h-1zM735 319h1V589h-1zM736 206h1V589h-1zM737 206h1V544h-1zM738 207h1V543h-1zM739 326h1V545h-1zM740 312h1V546h-1zM741 311h1V546h-1zM742 312h1V517h-1zM743 240h1V583h-1zM744 240h1V584h-1zM745 297h1V583h-1zM746 268h1V543h-1zM747 268h1V586h-1zM748 291h1V586h-1zM749 291h1V532h-1zM750 332h1V532h-1zM751 315h1V532h-1zM752 283h1V634h-1zM753 282h1V633h-1zM754 282h1V508h-1zM755 309h1V508h-1zM756 310h1V506h-1zM757 335h1V492h-1zM758 335h1V519h-1zM759 354h1V576h-1zM760 320h1V577h-1zM761 310h1V576h-1zM762 275h1V543h-1zM763 275h1V543h-1zM764 325h1V509h-1zM765 324h1V510h-1zM766 310h1V511h-1zM767 309h1V566h-1zM768 309h1V567h-1zM769 266h1V565h-1zM770 267h1V553h-1zM771 342h1V539h-1zM772 317h1V539h-1zM773 317h1V517h-1zM774 331h1V583h-1zM775 311h1V583h-1zM776 311h1V514h-1zM777 282h1V513h-1zM778 282h1V531h-1zM779 310h1V605h-1zM780 245h1V606h-1zM781 244h1V605h-1zM782 245h1V535h-1zM783 322h1V497h-1zM784 321h1V547h-1zM785 322h1V548h-1zM786 254h1V558h-1zM787 254h1V567h-1zM788 341h1V567h-1zM789 341h1V543h-1zM790 266h1V591h-1zM791 265h1V591h-1zM792 266h1V516h-1zM793 296h1V501h-1zM794 297h1V499h-1zM795 318h1V557h-1zM796 320h1V557h-1zM797 327h1V515h-1zM798 327h1V516h-1zM799 327h1V562h-1zM800 313h1V562h-1zM801 312h1V552h-1zM802 312h1V552h-1zM803 339h1V486h-1zM804 349h1V499h-1zM805 349h1V550h-1zM806 349h1V554h-1zM807 299h1V555h-1zM808 272h1V554h-1zM809 271h1V586h-1zM810 272h1V587h-1zM811 338h1V587h-1zM812 339h1V535h-1zM813 304h1V509h-1zM814 305h1V509h-1zM815 321h1V509h-1zM816 352h1V490h-1zM817 349h1V493h-1zM818 322h1V494h-1zM819 321h1V563h-1zM820 322h1V564h-1zM821 238h1V502h-1zM822 237h1V479h-1zM823 238h1V535h-1zM824 311h1V536h-1zM825 295h1V535h-1zM826 294h1V526h-1zM827 359h1V525h-1zM828 360h1V555h-1zM829 358h1V555h-1zM830 355h1V506h-1zM831 342h1V510h-1zM832 260h1V511h-1zM833 259h1V510h-1zM834 341h1V539h-1zM835 325h1V539h-1zM836 300h1V539h-1zM837 300h1V536h-1zM838 318h1V612h-1zM839 305h1V613h-1zM840 305h1V613h-1zM841 300h1V511h-1zM842 300h1V520h-1zM843 355h1V521h-1zM844 267h1V520h-1zM845 267h1V469h-1zM846 282h1V546h-1zM847 282h1V607h-1zM848 286h1V607h-1zM849 287h1V502h-1zM849 519h1V523h-1zM849 524h1V606h-1zM850 289h1V502h-1zM851 292h1V501h-1zM852 290h1V492h-1zM853 289h1V574h-1zM854 289h1V574h-1zM855 327h1V528h-1zM856 327h1V527h-1zM857 174h1V558h-1zM858 173h1V558h-1zM859 174h1V522h-1zM859 553h1V556h-1zM860 322h1V538h-1zM861 323h1V538h-1zM862 324h1V521h-1zM863 268h1V653h-1zM864 267h1V654h-1zM865 268h1V653h-1zM866 311h1V515h-1zM867 311h1V534h-1zM868 296h1V535h-1zM869 285h1V534h-1zM870 285h1V518h-1zM871 285h1V517h-1zM872 298h1V509h-1zM873 308h1V563h-1zM874 309h1V563h-1zM875 323h1V519h-1zM876 323h1V492h-1zM877 324h1V519h-1zM878 323h1V529h-1zM879 320h1V529h-1zM880 270h1V542h-1zM881 269h1V542h-1zM882 270h1V507h-1zM883 325h1V532h-1zM884 344h1V532h-1zM885 230h1V529h-1zM886 229h1V550h-1zM887 311h1V554h-1zM888 296h1V554h-1zM889 296h1V555h-1zM890 300h1V554h-1zM891 299h1V521h-1zM892 281h1V521h-1zM893 280h1V556h-1zM894 281h1V557h-1zM895 349h1V556h-1zM896 334h1V554h-1zM897 334h1V586h-1zM898 342h1V586h-1zM899 343h1V529h-1zM900 323h1V545h-1zM901 322h1V545h-1zM902 333h1V530h-1zM903 316h1V530h-1zM904 300h1V530h-1zM905 299h1V512h-1zM905 518h1V522h-1zM906 301h1V551h-1zM907 307h1V552h-1zM908 320h1V553h-1zM909 268h1V552h-1zM910 267h1V518h-1zM911 268h1V613h-1zM912 254h1V613h-1zM913 254h1V511h-1zM914 340h1V514h-1zM915 344h1V515h-1zM916 344h1V515h-1zM917 235h1V511h-1zM918 234h1V511h-1zM919 235h1V562h-1zM920 309h1V562h-1zM921 309h1V527h-1zM922 317h1V537h-1zM923 323h1V538h-1zM924 299h1V537h-1zM925 298h1V516h-1zM926 299h1V515h-1zM927 307h1V496h-1zM928 308h1V494h-1zM929 320h1V528h-1zM930 320h1V528h-1zM931 298h1V575h-1zM932 297h1V575h-1zM933 298h1V520h-1zM934 323h1V520h-1zM935 323h1V523h-1zM936 286h1V528h-1zM937 163h1V528h-1zM938 163h1V521h-1zM939 331h1V570h-1zM940 330h1V570h-1zM941 291h1V508h-1zM942 290h1V518h-1zM943 292h1V535h-1zM944 307h1V535h-1zM945 307h1V568h-1zM946 311h1V568h-1zM947 290h1V516h-1zM948 289h1V519h-1zM949 290h1V520h-1zM950 303h1V647h-1zM951 303h1V648h-1zM952 308h1V646h-1zM953 304h1V511h-1zM954 303h1V512h-1zM955 283h1V543h-1zM956 282h1V613h-1zM957 282h1V612h-1zM958 270h1V546h-1zM959 270h1V479h-1zM960 271h1V475h-1zM961 325h1V537h-1zM962 351h1V538h-1zM963 351h1V538h-1zM964 332h1V540h-1zM965 332h1V558h-1zM966 355h1V559h-1zM967 311h1V559h-1zM968 310h1V531h-1zM969 310h1V526h-1zM970 317h1V527h-1zM971 308h1V495h-1zM972 308h1V581h-1zM973 308h1V581h-1zM974 328h1V580h-1zM975 334h1V527h-1zM976 333h1V485h-1zM977 293h1V490h-1zM978 294h1V501h-1zM979 297h1V520h-1zM980 306h1V520h-1zM981 306h1V515h-1zM982 291h1V516h-1zM983 290h1V515h-1zM984 235h1V517h-1zM985 235h1V562h-1zM986 289h1V562h-1zM987 314h1V561h-1zM988 314h1V543h-1zM989 335h1V496h-1zM990 339h1V496h-1zM991 334h1V525h-1zM992 334h1V549h-1zM993 330h1V549h-1zM994 281h1V538h-1zM995 281h1V539h-1zM996 305h1V539h-1zM997 304h1V531h-1zM998 256h1V572h-1zM999 255h1V573h-1zM1000 256h1V572h-1zM1001 295h1V495h-1zM1002 313h1V577h-1zM1003 313h1V577h-1zM1004 314h1V521h-1zM1005 353h1V521h-1zM1006 352h1V529h-1zM1007 353h1V530h-1zM1008 345h1V529h-1zM1009 345h1V556h-1zM1010 292h1V590h-1zM1011 292h1V590h-1zM1012 333h1V552h-1zM1013 281h1V577h-1zM1014 280h1V577h-1zM1015 281h1V522h-1zM1016 287h1V522h-1zM1017 238h1V522h-1zM1018 238h1V530h-1zM1019 329h1V530h-1zM1020 328h1V524h-1zM1021 316h1V524h-1zM1022 316h1V517h-1zM1023 316h1V502h-1zM1024 328h1V491h-1zM1025 327h1V524h-1zM1026 328h1V524h-1zM1027 345h1V509h-1zM1028 320h1V512h-1zM1029 320h1V512h-1zM1030 320h1V560h-1zM1031 315h1V560h-1zM1032 315h1V526h-1zM1033 292h1V510h-1zM1034 291h1V586h-1zM1035 292h1V587h-1zM1036 318h1V586h-1zM1037 318h1V532h-1zM1038 322h1V533h-1zM1039 343h1V639h-1zM1040 328h1V640h-1zM1041 328h1V639h-1zM1042 329h1V602h-1zM1043 338h1V602h-1zM1044 309h1V545h-1zM1045 306h1V528h-1zM1046 305h1V528h-1zM1047 293h1V514h-1zM1048 292h1V627h-1zM1049 292h1V627h-1zM1050 321h1V549h-1zM1051 350h1V549h-1zM1052 311h1V580h-1zM1053 310h1V580h-1zM1054 332h1V522h-1zM1055 333h1V524h-1zM1056 228h1V525h-1zM1057 227h1V478h-1zM1058 227h1V532h-1zM1059 331h1V534h-1zM1060 332h1V533h-1zM1061 332h1V545h-1zM1062 337h1V546h-1zM1063 337h1V547h-1zM1064 338h1V546h-1zM1065 338h1V469h-1zM1066 342h1V525h-1zM1067 298h1V525h-1zM1068 298h1V537h-1zM1069 298h1V644h-1zM1070 309h1V644h-1zM1071 309h1V548h-1zM1072 316h1V547h-1zM1073 273h1V538h-1zM1074 272h1V637h-1zM1075 273h1V639h-1zM1076 335h1V638h-1zM1077 336h1V545h-1zM1078 337h1V546h-1zM1079 350h1V546h-1zM1080 362h1V567h-1zM1081 362h1V568h-1zM1082 355h1V567h-1zM1083 345h1V525h-1zM1084 344h1V526h-1zM1085 316h1V525h-1zM1086 293h1V537h-1zM1087 293h1V537h-1zM1088 302h1V535h-1zM1089 325h1V534h-1zM1090 299h1V539h-1zM1091 298h1V554h-1zM1092 299h1V554h-1zM1093 309h1V532h-1zM1094 325h1V532h-1zM1095 325h1V488h-1zM1096 312h1V537h-1zM1097 311h1V539h-1zM1098 322h1V538h-1zM1099 303h1V508h-1zM1100 303h1V508h-1zM1101 287h1V510h-1zM1102 286h1V511h-1zM1103 252h1V510h-1zM1104 251h1V555h-1zM1105 280h1V556h-1zM1106 281h1V573h-1zM1107 308h1V573h-1zM1108 342h1V523h-1zM1109 347h1V522h-1zM1110 283h1V532h-1zM1111 282h1V532h-1zM1112 283h1V509h-1zM1113 334h1V508h-1zM1114 343h1V533h-1zM1115 344h1V534h-1zM1116 353h1V533h-1zM1117 366h1V510h-1zM1118 278h1V508h-1zM1119 277h1V501h-1zM1120 278h1V500h-1zM1121 280h1V489h-1zM1122 281h1V616h-1zM1123 308h1V617h-1zM1124 309h1V616h-1zM1125 320h1V516h-1zM1126 351h1V515h-1zM1127 308h1V519h-1zM1128 307h1V522h-1zM1129 274h1V522h-1zM1130 273h1V542h-1zM1131 274h1V544h-1zM1132 300h1V543h-1zM1133 300h1V563h-1zM1134 285h1V564h-1zM1135 285h1V469h-1zM1135 474h1V563h-1zM1136 287h1V570h-1zM1137 293h1V571h-1zM1138 290h1V570h-1zM1139 288h1V490h-1zM1140 265h1V531h-1zM1141 265h1V607h-1zM1142 313h1V607h-1zM1143 314h1V522h-1zM1144 314h1V558h-1zM1145 311h1V558h-1zM1146 311h1V533h-1zM1147 310h1V533h-1zM1148 295h1V499h-1zM1149 295h1V497h-1zM1150 349h1V500h-1zM1151 350h1V501h-1zM1152 266h1V500h-1zM1153 266h1V557h-1zM1154 327h1V558h-1zM1155 327h1V557h-1zM1156 312h1V551h-1zM1157 311h1V539h-1zM1158 263h1V538h-1zM1159 263h1V494h-1zM1160 227h1V550h-1zM1161 227h1V550h-1zM1162 228h1V516h-1zM1163 334h1V534h-1zM1164 328h1V534h-1zM1165 328h1V511h-1zM1166 287h1V511h-1zM1167 286h1V502h-1zM1168 287h1V503h-1zM1169 300h1V503h-1zM1170 313h1V538h-1zM1171 314h1V544h-1zM1172 294h1V544h-1zM1173 293h1V544h-1zM1174 294h1V516h-1zM1175 321h1V529h-1zM1176 301h1V530h-1zM1177 301h1V529h-1zM1178 331h1V548h-1zM1179 330h1V562h-1zM1180 312h1V563h-1zM1181 288h1V563h-1zM1182 287h1V541h-1zM1183 288h1V575h-1zM1184 357h1V576h-1zM1185 265h1V575h-1zM1186 266h1V536h-1zM1187 252h1V547h-1zM1188 251h1V546h-1zM1189 281h1V567h-1zM1190 282h1V568h-1zM1191 273h1V567h-1zM1192 273h1V549h-1zM1193 291h1V555h-1zM1194 294h1V555h-1zM1195 315h1V539h-1zM1196 315h1V540h-1zM1197 245h1V556h-1zM1198 244h1V557h-1zM1199 244h1V556h-1zM1200 293h1V501h-1zM1201 293h1V584h-1zM1202 293h1V584h-1zM1203 339h1V491h-1zM1204 293h1V533h-1zM1205 250h1V534h-1zM1206 250h1V534h-1zM1207 251h1V535h-1zM1208 362h1V536h-1zM1209 307h1V535h-1zM1210 306h1V502h-1zM1211 307h1V534h-1zM1212 329h1V535h-1zM1213 295h1V508h-1zM1214 269h1V539h-1zM1215 269h1V540h-1zM1216 284h1V549h-1zM1217 283h1V549h-1zM1218 311h1V545h-1zM1219 302h1V544h-1zM1220 228h1V532h-1zM1221 228h1V507h-1zM1222 311h1V511h-1zM1223 311h1V592h-1zM1224 311h1V592h-1zM1225 243h1V536h-1zM1226 243h1V537h-1zM1227 244h1V508h-1zM1228 285h1V288h-1zM1228 324h1V485h-1zM1229 284h1V529h-1zM1230 284h1V547h-1zM1231 322h1V560h-1zM1232 365h1V561h-1zM1233 312h1V561h-1zM1234 311h1V491h-1zM1235 311h1V533h-1zM1236 339h1V533h-1zM1237 298h1V497h-1zM1238 297h1V550h-1zM1239 297h1V551h-1zM1240 369h1V550h-1zM1241 324h1V511h-1zM1242 323h1V516h-1zM1243 323h1V572h-1zM1244 243h1V573h-1zM1245 243h1V572h-1zM1246 243h1V531h-1zM1247 298h1V530h-1zM1248 298h1V521h-1zM1249 298h1V511h-1zM1250 359h1V547h-1zM1251 330h1V547h-1zM1252 329h1V533h-1zM1253 352h1V533h-1zM1254 311h1V530h-1zM1255 264h1V557h-1zM1256 264h1V563h-1zM1257 324h1V564h-1zM1258 306h1V563h-1zM1259 306h1V536h-1zM1260 321h1V502h-1zM1261 307h1V503h-1zM1262 307h1V503h-1zM1263 307h1V503h-1zM1264 345h1V549h-1zM1265 345h1V549h-1zM1266 341h1V548h-1zM1267 340h1V584h-1zM1268 310h1V584h-1zM1269 300h1V583h-1zM1270 298h1V560h-1zM1271 285h1V560h-1zM1272 285h1V527h-1zM1273 173h1V553h-1zM1274 173h1V553h-1zM1275 297h1V552h-1zM1276 297h1V532h-1zM1277 297h1V531h-1zM1278 335h1V505h-1zM1279 334h1V523h-1zM1280 324h1V524h-1zM1281 288h1V524h-1zM1282 285h1V496h-1zM1283 285h1V539h-1zM1284 285h1V539h-1zM1285 332h1V574h-1zM1286 336h1V574h-1zM1287 344h1V574h-1zM1288 344h1V517h-1zM1289 317h1V509h-1zM1290 317h1V513h-1zM1291 318h1V535h-1zM1292 306h1V535h-1zM1293 305h1V552h-1zM1294 300h1V552h-1zM1295 201h1V537h-1zM1296 201h1V536h-1zM1297 294h1V582h-1zM1298 335h1V582h-1zM1299 334h1V582h-1zM1300 334h1V544h-1zM1301 309h1V516h-1zM1302 309h1V531h-1zM1303 334h1V532h-1zM1304 334h1V577h-1zM1305 327h1V578h-1zM1306 326h1V577h-1zM1307 305h1V530h-1zM1308 305h1V492h-1zM1309 306h1V535h-1zM1310 291h1V535h-1zM1311 290h1V510h-1zM1312 290h1V555h-1zM1313 236h1V589h-1zM1314 236h1V589h-1zM1315 239h1V527h-1zM1316 239h1V540h-1zM1317 292h1V540h-1zM1318 293h1V483h-1zM1319 307h1V683h-1zM1320 308h1V683h-1zM1321 322h1V545h-1zM1322 323h1V507h-1zM1323 327h1V532h-1zM1324 326h1V558h-1zM1325 307h1V558h-1zM1326 306h1V526h-1zM1327 299h1V526h-1zM1328 298h1V536h-1zM1329 299h1V537h-1zM1330 334h1V560h-1zM1331 335h1V560h-1zM1332 342h1V540h-1zM1333 342h1V538h-1zM1334 304h1V539h-1zM1335 296h1V537h-1zM1336 295h1V504h-1zM1337 296h1V637h-1zM1338 317h1V638h-1zM1339 303h1V637h-1zM1340 303h1V621h-1zM1341 318h1V622h-1zM1342 304h1V621h-1zM1343 303h1V529h-1zM1344 303h1V530h-1zM1345 263h1V613h-1zM1346 263h1V613h-1zM1347 331h1V613h-1zM1348 250h1V530h-1zM1349 249h1V530h-1zM1350 250h1V542h-1zM1351 300h1V545h-1zM1352 300h1V545h-1zM1353 292h1V529h-1zM1354 291h1V520h-1zM1355 286h1V521h-1zM1356 286h1V547h-1zM1357 304h1V548h-1zM1358 327h1V489h-1zM1359 327h1V528h-1zM1360 294h1V529h-1zM1361 293h1V529h-1zM1362 293h1V535h-1zM1363 293h1V535h-1zM1364 343h1V535h-1zM1365 319h1V517h-1zM1366 254h1V517h-1zM1367 253h1V579h-1zM1368 311h1V579h-1zM1369 310h1V510h-1zM1370 311h1V511h-1zM1371 314h1V533h-1zM1372 305h1V533h-1zM1373 305h1V528h-1zM1374 327h1V528h-1zM1375 327h1V576h-1zM1376 329h1V578h-1zM1377 283h1V577h-1zM1378 239h1V505h-1zM1379 239h1V541h-1zM1380 239h1V612h-1zM1381 238h1V612h-1zM1382 239h1V540h-1zM1383 355h1V548h-1zM1384 266h1V549h-1zM1385 265h1V548h-1zM1386 266h1V515h-1zM1387 307h1V514h-1zM1388 306h1V522h-1zM1389 306h1V582h-1zM1390 284h1V582h-1zM1391 284h1V505h-1zM1392 358h1V494h-1zM1393 358h1V504h-1zM1394 358h1V529h-1zM1395 311h1V537h-1zM1396 310h1V537h-1zM1397 241h1V514h-1zM1398 240h1V546h-1zM1399 240h1V547h-1zM1400 283h1V504h-1zM1401 284h1V524h-1zM1402 301h1V540h-1zM1403 316h1V540h-1zM1404 304h1V539h-1zM1405 303h1V555h-1zM1406 304h1V555h-1zM1407 304h1V484h-1zM1408 303h1V500h-1zM1409 258h1V500h-1zM1410 257h1V613h-1zM1411 258h1V613h-1zM1412 320h1V515h-1zM1413 320h1V515h-1zM1414 331h1V514h-1zM1415 338h1V501h-1zM1416 264h1V499h-1zM1417 263h1V499h-1zM1418 264h1V530h-1zM1419 284h1V530h-1zM1420 359h1V500h-1zM1421 283h1V494h-1zM1422 282h1V510h-1zM1423 283h1V512h-1zM1424 343h1V586h-1zM1425 333h1V585h-1zM1426 330h1V554h-1zM1427 316h1V534h-1zM1428 268h1V523h-1zM1429 268h1V538h-1zM1430 308h1V537h-1zM1431 302h1V473h-1zM1432 301h1V511h-1zM1433 300h1V512h-1zM1434 301h1V511h-1zM1435 316h1V472h-1zM1436 347h1V492h-1zM1437 309h1V583h-1zM1438 309h1V583h-1zM1439 353h1V545h-1z" fill="#4C72B0" fill-opacity="0.472"/>
<path d="M200 327h1V469h-1zM201 291h1V538h-1zM202 290h1V538h-1zM203 291h1V496h-1zM204 345h1V493h-1zM205 344h1V534h-1zM206 345h1V535h-1zM207 317h1V510h-1zM208 317h1V534h-1zM209 342h1V534h-1zM210 264h1V574h-1zM211 265h1V574h-1zM212 300h1V573h-1zM213 299h1V499h-1zM214 300h1V542h-1zM215 303h1V541h-1zM216 369h1V490h-1zM217 369h1V563h-1zM218 369h1V562h-1zM219 369h1V500h-1zM220 354h1V501h-1zM221 223h1V512h-1zM222 222h1V512h-1zM223 318h1V510h-1zM224 336h1V510h-1zM225 265h1V499h-1zM226 265h1V499h-1zM227 291h1V512h-1zM228 291h1V512h-1zM229 341h1V511h-1zM230 315h1V529h-1zM231 315h1V530h-1zM232 235h1V581h-1zM233 234h1V581h-1zM234 235h1V489h-1zM235 321h1V489h-1zM236 312h1V507h-1zM237 312h1V536h-1zM238 204h1V536h-1zM239 204h1V545h-1zM240 283h1V545h-1zM241 283h1V515h-1zM242 298h1V539h-1zM243 298h1V542h-1zM244 294h1V546h-1zM245 293h1V546h-1zM246 290h1V524h-1zM247 289h1V509h-1zM248 290h1V546h-1zM249 317h1V552h-1zM250 316h1V552h-1zM251 254h1V551h-1zM252 254h1V552h-1zM253 309h1V552h-1zM254 309h1V537h-1zM255 323h1V504h-1zM256 327h1V507h-1zM257 318h1V521h-1zM258 318h1V531h-1zM259 294h1V555h-1zM260 294h1V555h-1zM261 340h1V550h-1zM262 326h1V579h-1zM263 315h1V580h-1zM264 311h1V579h-1zM265 311h1V538h-1zM266 293h1V538h-1zM267 293h1V527h-1zM268 303h1V528h-1zM269 333h1V527h-1zM270 333h1V518h-1zM271 336h1V564h-1zM272 336h1V565h-1zM273 325h1V564h-1zM274 291h1V541h-1zM275 263h1V556h-1zM276 264h1V556h-1zM277 322h1V516h-1zM278 322h1V542h-1zM279 316h1V556h-1zM280 316h1V557h-1zM281 316h1V557h-1zM282 345h1V512h-1zM283 289h1V487h-1zM284 289h1V469h-1zM285 341h1V492h-1zM286 342h1V524h-1zM287 335h1V553h-1zM288 298h1V553h-1zM289 297h1V586h-1zM290 297h1V587h-1zM291 323h1V587h-1zM292 318h1V515h-1zM293 318h1V542h-1zM294 295h1V542h-1zM295 295h1V542h-1zM296 216h1V619h-1zM297 216h1V619h-1zM298 284h1V499h-1zM299 284h1V495h-1zM300 323h1V549h-1zM301 323h1V549h-1zM302 309h1V499h-1zM303 309h1V501h-1zM304 317h1V551h-1zM305 317h1V551h-1zM306 335h1V534h-1zM307 322h1V512h-1zM308 322h1V521h-1zM309 306h1V540h-1zM310 306h1V573h-1zM311 358h1V573h-1zM312 323h1V543h-1zM313 288h1V530h-1zM314 288h1V528h-1zM315 316h1V530h-1zM316 301h1V529h-1zM317 300h1V543h-1zM318 301h1V551h-1zM319 252h1V552h-1zM320 252h1V553h-1zM321 295h1V554h-1zM322 310h1V553h-1zM323 310h1V530h-1zM324 302h1V550h-1zM325 302h1V551h-1zM326 315h1V550h-1zM327 314h1V548h-1zM328 298h1V548h-1zM329 298h1V546h-1zM330 300h1V527h-1zM331 338h1V494h-1zM332 306h1V500h-1zM333 305h1V501h-1zM334 306h1V500h-1zM335 329h1V498h-1zM336 339h1V497h-1zM337 339h1V485h-1zM338 341h1V500h-1zM339 324h1V500h-1zM340 323h1V500h-1zM341 296h1V500h-1zM342 296h1V501h-1zM343 323h1V500h-1zM344 324h1V483h-1zM345 305h1V483h-1zM346 289h1V516h-1zM347 229h1V516h-1zM348 228h1V485h-1zM349 316h1V486h-1zM350 316h1V495h-1zM351 316h1V565h-1zM352 316h1V566h-1zM353 316h1V521h-1zM354 281h1V491h-1zM355 281h1V507h-1zM356 354h1V508h-1zM357 354h1V507h-1zM358 325h1V530h-1zM359 300h1V539h-1zM360 300h1V539h-1zM361 300h1V537h-1zM362 297h1V504h-1zM363 291h1V523h-1zM364 290h1V554h-1zM365 291h1V553h-1zM366 308h1V547h-1zM367 282h1V548h-1zM368 281h1V616h-1zM369 282h1V616h-1zM370 298h1V512h-1zM371 285h1V542h-1zM372 285h1V543h-1zM373 254h1V535h-1zM374 253h1V516h-1zM375 317h1V515h-1zM376 318h1V512h-1zM377 347h1V513h-1zM378 343h1V535h-1zM379 343h1V535h-1zM380 335h1V529h-1zM381 335h1V530h-1zM382 343h1V529h-1zM383 311h1V528h-1zM384 256h1V527h-1zM385 255h1V595h-1zM386 280h1V596h-1zM387 231h1V595h-1zM388 231h1V505h-1zM389 296h1V527h-1zM390 296h1V527h-1zM391 296h1V518h-1zM392 325h1V517h-1zM393 324h1V492h-1zM394 325h1V492h-1zM395 355h1V508h-1zM396 283h1V536h-1zM397 283h1V601h-1zM398 313h1V602h-1zM399 301h1V601h-1zM400 301h1V532h-1zM401 338h1V532h-1zM402 339h1V600h-1zM403 369h1V601h-1zM404 334h1V549h-1zM405 334h1V544h-1zM406 350h1V544h-1zM407 210h1V543h-1zM408 210h1V531h-1zM409 332h1V531h-1zM410 333h1V573h-1zM411 228h1V573h-1zM412 229h1V505h-1zM413 306h1V506h-1zM414 305h1V525h-1zM415 317h1V538h-1zM416 362h1V538h-1zM417 325h1V534h-1zM418 305h1V535h-1zM419 294h1V534h-1zM420 285h1V485h-1zM421 286h1V494h-1zM422 305h1V498h-1zM423 311h1V600h-1zM424 331h1V600h-1zM425 290h1V600h-1zM426 290h1V507h-1zM427 329h1V507h-1zM428 339h1V521h-1zM429 338h1V521h-1zM430 314h1V514h-1zM431 314h1V514h-1zM432 330h1V509h-1zM433 331h1V516h-1zM434 336h1V517h-1zM435 348h1V516h-1zM436 311h1V481h-1zM437 306h1V487h-1zM438 306h1V508h-1zM439 296h1V553h-1zM440 297h1V554h-1zM441 350h1V570h-1zM442 301h1V570h-1zM443 300h1V490h-1zM444 332h1V489h-1zM445 332h1V540h-1zM446 204h1V632h-1zM447 203h1V632h-1zM448 204h1V544h-1zM449 314h1V544h-1zM450 299h1V544h-1zM451 299h1V519h-1zM452 306h1V518h-1zM453 280h1V592h-1zM454 280h1V593h-1zM455 270h1V593h-1zM456 270h1V555h-1zM457 337h1V509h-1zM458 282h1V509h-1zM459 281h1V556h-1zM460 272h1V556h-1zM461 272h1V538h-1zM462 302h1V553h-1zM463 302h1V553h-1zM464 310h1V497h-1zM465 312h1V544h-1zM466 303h1V545h-1zM467 303h1V544h-1zM468 314h1V516h-1zM469 330h1V555h-1zM470 363h1V555h-1zM471 183h1V535h-1zM472 183h1V520h-1zM473 184h1V505h-1zM474 340h1V531h-1zM475 283h1V534h-1zM476 283h1V534h-1zM477 301h1V556h-1zM478 325h1V556h-1zM479 322h1V498h-1zM480 321h1V496h-1zM481 322h1V524h-1zM482 337h1V524h-1zM483 326h1V524h-1zM484 324h1V504h-1zM485 306h1V582h-1zM486 306h1V582h-1zM487 319h1V548h-1zM488 319h1V557h-1zM489 313h1V557h-1zM490 313h1V494h-1zM491 319h1V563h-1zM492 288h1V563h-1zM493 287h1V541h-1zM494 312h1V542h-1zM495 312h1V541h-1zM496 260h1V528h-1zM497 261h1V528h-1zM498 312h1V514h-1zM499 320h1V551h-1zM500 320h1V552h-1zM501 312h1V551h-1zM502 281h1V544h-1zM503 151h1V538h-1zM504 150h1V501h-1zM505 151h1V545h-1zM506 282h1V545h-1zM507 348h1V482h-1zM508 349h1V516h-1zM509 317h1V516h-1zM510 316h1V515h-1zM511 316h1V535h-1zM512 327h1V596h-1zM513 246h1V597h-1zM514 246h1V596h-1zM515 343h1V504h-1zM516 320h1V504h-1zM517 319h1V482h-1zM518 184h1V491h-1zM519 184h1V494h-1zM520 296h1V583h-1zM521 295h1V583h-1zM522 295h1V501h-1zM523 352h1V502h-1zM524 369h1V524h-1zM525 339h1V569h-1zM526 307h1V569h-1zM527 291h1V473h-1zM528 291h1V503h-1zM529 328h1V554h-1zM530 310h1V555h-1zM531 297h1V554h-1zM532 297h1V526h-1zM533 343h1V526h-1zM534 343h1V544h-1zM535 292h1V544h-1zM536 292h1V542h-1zM537 319h1V508h-1zM538 314h1V507h-1zM539 308h1V506h-1zM540 308h1V506h-1zM541 309h1V575h-1zM542 328h1V576h-1zM543 296h1V575h-1zM544 296h1V511h-1zM545 295h1V515h-1zM546 295h1V529h-1zM547 295h1V553h-1zM548 243h1V552h-1zM549 243h1V551h-1zM550 292h1V514h-1zM551 292h1V518h-1zM552 331h1V532h-1zM553 331h1V532h-1zM554 331h1V510h-1zM555 306h1V542h-1zM556 307h1V542h-1zM557 327h1V522h-1zM558 323h1V519h-1zM559 310h1V538h-1zM560 309h1V574h-1zM561 312h1V574h-1zM562 313h1V538h-1zM563 332h1V532h-1zM564 332h1V526h-1zM565 274h1V525h-1zM566 273h1V548h-1zM567 336h1V548h-1zM568 336h1V548h-1zM569 323h1V548h-1zM570 124h1V548h-1zM571 124h1V532h-1zM572 238h1V587h-1zM573 239h1V647h-1zM574 360h1V647h-1zM575 351h1V517h-1zM576 338h1V516h-1zM577 227h1V537h-1zM578 226h1V602h-1zM579 226h1V603h-1zM580 300h1V602h-1zM581 312h1V551h-1zM582 290h1V550h-1zM583 290h1V515h-1zM584 290h1V549h-1zM585 304h1V581h-1zM586 309h1V581h-1zM587 294h1V508h-1zM588 294h1V508h-1zM589 358h1V578h-1zM590 360h1V578h-1zM591 358h1V531h-1zM592 297h1V502h-1zM593 297h1V469h-1zM594 306h1V556h-1zM595 307h1V556h-1zM596 235h1V546h-1zM597 234h1V535h-1zM598 235h1V614h-1zM599 257h1V614h-1zM600 257h1V486h-1zM601 314h1V496h-1zM602 351h1V523h-1zM603 361h1V523h-1zM604 347h1V509h-1zM605 307h1V572h-1zM606 306h1V573h-1zM607 305h1V517h-1zM608 306h1V514h-1zM609 323h1V608h-1zM610 234h1V608h-1zM611 234h1V536h-1zM612 313h1V519h-1zM613 313h1V526h-1zM614 325h1V526h-1zM615 303h1V503h-1zM616 303h1V517h-1zM617 296h1V516h-1zM618 199h1V493h-1zM619 199h1V555h-1zM620 305h1V555h-1zM621 260h1V525h-1zM622 260h1V516h-1zM623 312h1V584h-1zM624 265h1V584h-1zM625 265h1V538h-1zM626 285h1V485h-1zM627 289h1V473h-1zM628 309h1V473h-1zM629 263h1V615h-1zM630 263h1V615h-1zM631 334h1V554h-1zM632 320h1V552h-1zM633 320h1V551h-1zM634 304h1V551h-1zM635 304h1V547h-1zM636 321h1V544h-1zM637 331h1V491h-1zM638 331h1V499h-1zM639 331h1V499h-1zM640 330h1V469h-1zM641 321h1V494h-1zM642 321h1V530h-1zM643 302h1V530h-1zM644 291h1V511h-1zM645 291h1V510h-1zM646 230h1V505h-1zM647 230h1V489h-1zM648 320h1V607h-1zM649 304h1V607h-1zM650 303h1V470h-1zM650 491h1V522h-1zM651 352h1V492h-1zM652 293h1V518h-1zM653 293h1V519h-1zM654 293h1V505h-1zM655 294h1V511h-1zM656 339h1V511h-1zM657 295h1V490h-1zM658 294h1V514h-1zM659 294h1V514h-1zM660 304h1V507h-1zM661 303h1V507h-1zM662 290h1V571h-1zM663 290h1V571h-1zM664 350h1V518h-1zM665 303h1V518h-1zM666 303h1V498h-1zM667 281h1V498h-1zM668 280h1V528h-1zM669 281h1V548h-1zM670 300h1V547h-1zM671 301h1V539h-1zM672 312h1V542h-1zM673 312h1V543h-1zM674 302h1V513h-1zM675 301h1V512h-1zM676 302h1V529h-1zM677 327h1V530h-1zM678 307h1V546h-1zM679 307h1V546h-1zM680 352h1V570h-1zM681 310h1V570h-1zM682 309h1V469h-1zM683 305h1V619h-1zM684 306h1V619h-1zM685 366h1V517h-1zM686 274h1V504h-1zM687 274h1V552h-1zM688 275h1V552h-1zM689 309h1V584h-1zM690 322h1V585h-1zM691 322h1V585h-1zM692 323h1V533h-1zM693 336h1V533h-1zM694 311h1V577h-1zM695 310h1V577h-1zM696 310h1V535h-1zM697 350h1V503h-1zM698 325h1V627h-1zM699 320h1V627h-1zM700 320h1V486h-1zM701 357h1V498h-1zM702 332h1V536h-1zM703 331h1V537h-1zM704 290h1V540h-1zM705 290h1V603h-1zM706 303h1V603h-1zM707 303h1V496h-1zM708 303h1V495h-1zM709 305h1V492h-1zM710 335h1V550h-1zM711 309h1V550h-1zM712 309h1V546h-1zM713 326h1V542h-1zM714 354h1V541h-1zM715 368h1V496h-1zM716 364h1V496h-1zM717 356h1V479h-1zM718 312h1V503h-1zM719 312h1V543h-1zM720 319h1V543h-1zM721 283h1V564h-1zM722 283h1V564h-1zM723 267h1V505h-1zM724 267h1V530h-1zM725 311h1V531h-1zM726 324h1V544h-1zM727 311h1V544h-1zM728 310h1V551h-1zM729 268h1V551h-1zM730 267h1V479h-1zM731 268h1V494h-1zM732 322h1V530h-1zM733 309h1V530h-1zM734 309h1V513h-1zM735 319h1V589h-1zM736 207h1V589h-1zM737 206h1V543h-1zM738 207h1V543h-1zM739 326h1V543h-1zM740 312h1V546h-1zM741 312h1V546h-1zM742 312h1V517h-1zM743 241h1V583h-1zM744 241h1V584h-1zM745 298h1V583h-1zM746 269h1V543h-1zM747 269h1V586h-1zM748 291h1V586h-1zM749 292h1V532h-1zM750 332h1V531h-1zM751 315h1V532h-1zM752 314h1V633h-1zM753 282h1V633h-1zM754 282h1V508h-1zM755 310h1V508h-1zM756 310h1V506h-1zM757 335h1V492h-1zM758 336h1V519h-1zM759 354h1V576h-1zM760 320h1V576h-1zM761 310h1V543h-1zM762 276h1V543h-1zM763 275h1V543h-1zM764 325h1V508h-1zM765 325h1V509h-1zM766 324h1V511h-1zM767 309h1V566h-1zM768 309h1V566h-1zM769 266h1V554h-1zM770 267h1V553h-1zM771 343h1V539h-1zM772 317h1V538h-1zM773 317h1V517h-1zM774 331h1V583h-1zM775 311h1V583h-1zM776 311h1V513h-1zM777 282h1V512h-1zM778 282h1V531h-1zM779 310h1V605h-1zM780 245h1V605h-1zM781 244h1V536h-1zM782 245h1V535h-1zM783 322h1V496h-1zM784 321h1V547h-1zM785 322h1V547h-1zM786 254h1V557h-1zM787 254h1V567h-1zM788 341h1V567h-1zM789 341h1V542h-1zM790 266h1V590h-1zM791 265h1V590h-1zM792 266h1V515h-1zM793 297h1V498h-1zM794 297h1V499h-1zM795 319h1V557h-1zM796 329h1V557h-1zM797 327h1V514h-1zM798 327h1V515h-1zM799 328h1V334h-1zM799 353h1V562h-1zM800 325h1V562h-1zM801 312h1V552h-1zM802 313h1V552h-1zM803 339h1V486h-1zM804 350h1V499h-1zM805 349h1V549h-1zM806 350h1V554h-1zM807 299h1V554h-1zM808 272h1V540h-1zM809 272h1V586h-1zM810 272h1V587h-1zM811 339h1V586h-1zM812 340h1V535h-1zM813 305h1V509h-1zM814 305h1V509h-1zM815 321h1V509h-1zM816 352h1V490h-1zM817 354h1V493h-1zM818 322h1V494h-1zM819 322h1V563h-1zM820 322h1V564h-1zM821 238h1V501h-1zM822 238h1V479h-1zM823 239h1V260h-1zM823 262h1V265h-1zM823 309h1V535h-1zM824 315h1V536h-1zM825 295h1V535h-1zM826 295h1V526h-1zM827 360h1V525h-1zM828 360h1V555h-1zM829 358h1V555h-1zM830 357h1V505h-1zM831 342h1V510h-1zM832 260h1V511h-1zM833 259h1V500h-1zM834 363h1V538h-1zM835 325h1V539h-1zM836 300h1V538h-1zM837 300h1V536h-1zM838 325h1V517h-1zM839 305h1V613h-1zM840 305h1V613h-1zM841 300h1V511h-1zM842 300h1V520h-1zM843 355h1V520h-1zM844 268h1V505h-1zM845 268h1V469h-1zM846 282h1V546h-1zM847 282h1V607h-1zM848 286h1V607h-1zM849 287h1V502h-1zM850 289h1V501h-1zM851 292h1V500h-1zM852 292h1V491h-1zM853 289h1V573h-1zM854 290h1V573h-1zM855 327h1V528h-1zM856 327h1V527h-1zM857 174h1V557h-1zM858 174h1V558h-1zM859 321h1V522h-1zM860 322h1V538h-1zM861 324h1V538h-1zM862 324h1V521h-1zM863 268h1V653h-1zM864 267h1V653h-1zM865 268h1V516h-1zM865 522h1V532h-1zM865 533h1V652h-1zM866 311h1V515h-1zM867 311h1V534h-1zM868 296h1V535h-1zM869 286h1V534h-1zM870 285h1V518h-1zM871 286h1V517h-1zM872 298h1V508h-1zM873 309h1V563h-1zM874 309h1V563h-1zM875 323h1V519h-1zM876 324h1V492h-1zM877 324h1V519h-1zM878 323h1V528h-1zM879 320h1V528h-1zM880 270h1V542h-1zM881 270h1V542h-1zM882 271h1V507h-1zM883 325h1V532h-1zM884 344h1V532h-1zM885 230h1V528h-1zM886 230h1V550h-1zM887 312h1V553h-1zM888 296h1V554h-1zM889 296h1V554h-1zM890 301h1V507h-1zM891 300h1V520h-1zM892 281h1V521h-1zM893 280h1V556h-1zM894 281h1V557h-1zM895 349h1V556h-1zM896 334h1V553h-1zM897 334h1V586h-1zM898 342h1V586h-1zM899 343h1V528h-1zM900 323h1V544h-1zM901 323h1V544h-1zM902 334h1V529h-1zM903 316h1V530h-1zM904 300h1V529h-1zM905 300h1V511h-1zM905 519h1V521h-1zM906 305h1V551h-1zM907 307h1V552h-1zM908 320h1V553h-1zM909 268h1V552h-1zM910 267h1V517h-1zM911 268h1V283h-1zM911 317h1V613h-1zM912 254h1V613h-1zM913 254h1V511h-1zM914 341h1V512h-1zM915 344h1V515h-1zM916 344h1V515h-1zM917 235h1V511h-1zM918 234h1V511h-1zM919 235h1V562h-1zM920 309h1V562h-1zM921 309h1V527h-1zM922 317h1V537h-1zM923 343h1V538h-1zM924 299h1V537h-1zM925 298h1V516h-1zM926 299h1V515h-1zM927 307h1V496h-1zM928 321h1V493h-1zM929 321h1V527h-1zM930 320h1V528h-1zM931 298h1V575h-1zM932 297h1V575h-1zM933 298h1V520h-1zM934 323h1V520h-1zM935 323h1V522h-1zM936 316h1V528h-1zM937 163h1V528h-1zM938 163h1V520h-1zM939 331h1V570h-1zM940 330h1V570h-1zM941 291h1V508h-1zM942 291h1V518h-1zM943 307h1V535h-1zM944 307h1V535h-1zM945 307h1V568h-1zM946 311h1V568h-1zM947 310h1V516h-1zM948 289h1V519h-1zM949 290h1V519h-1zM950 303h1V647h-1zM951 303h1V647h-1zM952 309h1V499h-1zM953 305h1V511h-1zM954 303h1V511h-1zM955 283h1V543h-1zM956 282h1V613h-1zM957 283h1V612h-1zM958 270h1V546h-1zM959 270h1V475h-1zM960 324h1V474h-1zM961 325h1V537h-1zM962 351h1V538h-1zM963 352h1V537h-1zM964 332h1V540h-1zM965 332h1V551h-1zM966 355h1V559h-1zM967 345h1V559h-1zM968 310h1V507h-1zM969 311h1V526h-1zM970 317h1V527h-1zM971 308h1V494h-1zM972 308h1V580h-1zM973 309h1V581h-1zM974 328h1V580h-1zM975 334h1V527h-1zM976 333h1V485h-1zM977 294h1V490h-1zM978 294h1V501h-1zM979 297h1V520h-1zM980 306h1V519h-1zM981 306h1V515h-1zM982 291h1V515h-1zM983 291h1V514h-1zM984 236h1V501h-1zM985 235h1V562h-1zM986 289h1V562h-1zM987 314h1V543h-1zM988 315h1V542h-1zM989 335h1V496h-1zM990 340h1V495h-1zM991 335h1V525h-1zM992 334h1V549h-1zM993 330h1V549h-1zM994 281h1V538h-1zM995 282h1V539h-1zM996 305h1V538h-1zM997 304h1V531h-1zM998 257h1V572h-1zM999 256h1V573h-1zM1000 256h1V572h-1zM1001 330h1V495h-1zM1002 314h1V577h-1zM1003 313h1V577h-1zM1004 366h1V520h-1zM1005 353h1V521h-1zM1006 353h1V521h-1zM1007 354h1V529h-1zM1008 345h1V529h-1zM1009 345h1V555h-1zM1010 292h1V590h-1zM1011 292h1V590h-1zM1012 333h1V551h-1zM1013 333h1V577h-1zM1014 280h1V577h-1zM1015 281h1V521h-1zM1016 287h1V522h-1zM1017 238h1V522h-1zM1018 238h1V530h-1zM1019 329h1V530h-1zM1020 328h1V524h-1zM1021 328h1V524h-1zM1022 316h1V517h-1zM1023 316h1V489h-1zM1024 328h1V491h-1zM1025 327h1V524h-1zM1026 328h1V524h-1zM1027 345h1V508h-1zM1028 321h1V511h-1zM1029 320h1V512h-1zM1030 320h1V559h-1zM1031 315h1V560h-1zM1032 315h1V526h-1zM1033 293h1V510h-1zM1034 292h1V585h-1zM1035 292h1V586h-1zM1036 318h1V586h-1zM1037 319h1V532h-1zM1038 323h1V532h-1zM1039 343h1V532h-1zM1040 329h1V639h-1zM1041 328h1V639h-1zM1042 338h1V602h-1zM1043 338h1V601h-1zM1044 309h1V545h-1zM1045 308h1V528h-1zM1046 305h1V528h-1zM1047 298h1V514h-1zM1048 292h1V627h-1zM1049 293h1V626h-1zM1050 322h1V549h-1zM1051 350h1V549h-1zM1052 311h1V580h-1zM1053 311h1V580h-1zM1054 332h1V521h-1zM1055 333h1V524h-1zM1056 324h1V524h-1zM1057 227h1V478h-1zM1058 227h1V532h-1zM1059 332h1V533h-1zM1060 332h1V533h-1zM1061 333h1V545h-1zM1062 337h1V546h-1zM1063 337h1V547h-1zM1064 338h1V546h-1zM1065 338h1V469h-1zM1066 342h1V525h-1zM1067 298h1V525h-1zM1068 298h1V537h-1zM1069 299h1V644h-1zM1070 310h1V644h-1zM1071 309h1V547h-1zM1072 316h1V546h-1zM1073 274h1V538h-1zM1074 273h1V539h-1zM1075 273h1V638h-1zM1076 337h1V638h-1zM1077 337h1V536h-1zM1078 337h1V546h-1zM1079 350h1V545h-1zM1080 362h1V567h-1zM1081 362h1V567h-1zM1082 355h1V567h-1zM1083 345h1V525h-1zM1084 344h1V525h-1zM1085 316h1V525h-1zM1086 293h1V537h-1zM1087 293h1V537h-1zM1088 303h1V535h-1zM1089 326h1V534h-1zM1090 299h1V538h-1zM1091 298h1V553h-1zM1092 308h1V553h-1zM1093 309h1V532h-1zM1094 325h1V531h-1zM1095 325h1V488h-1zM1096 312h1V491h-1zM1097 312h1V538h-1zM1098 323h1V538h-1zM1099 303h1V508h-1zM1100 303h1V507h-1zM1101 313h1V510h-1zM1102 286h1V511h-1zM1103 252h1V510h-1zM1104 252h1V555h-1zM1105 280h1V556h-1zM1106 281h1V573h-1zM1107 308h1V572h-1zM1108 342h1V523h-1zM1109 347h1V522h-1zM1110 283h1V532h-1zM1111 282h1V532h-1zM1112 283h1V509h-1zM1113 334h1V508h-1zM1114 343h1V533h-1zM1115 344h1V533h-1zM1116 353h1V533h-1zM1117 367h1V510h-1zM1118 278h1V508h-1zM1119 277h1V501h-1zM1120 278h1V490h-1zM1121 281h1V489h-1zM1122 281h1V616h-1zM1123 309h1V617h-1zM1124 309h1V616h-1zM1125 320h1V516h-1zM1126 351h1V515h-1zM1127 308h1V519h-1zM1128 308h1V521h-1zM1129 274h1V522h-1zM1130 273h1V522h-1zM1131 274h1V543h-1zM1132 300h1V543h-1zM1133 301h1V563h-1zM1134 285h1V564h-1zM1135 285h1V469h-1zM1135 498h1V510h-1zM1136 287h1V469h-1zM1137 293h1V571h-1zM1138 293h1V570h-1zM1139 288h1V490h-1zM1140 265h1V531h-1zM1141 265h1V607h-1zM1142 313h1V607h-1zM1143 314h1V522h-1zM1144 314h1V558h-1zM1145 311h1V558h-1zM1146 311h1V533h-1zM1147 310h1V533h-1zM1148 295h1V497h-1zM1149 295h1V496h-1zM1150 350h1V499h-1zM1151 350h1V500h-1zM1152 267h1V500h-1zM1153 267h1V557h-1zM1154 328h1V557h-1zM1155 327h1V556h-1zM1156 312h1V550h-1zM1157 312h1V538h-1zM1158 263h1V538h-1zM1159 263h1V494h-1zM1160 228h1V549h-1zM1161 227h1V549h-1zM1162 295h1V516h-1zM1163 335h1V533h-1zM1164 328h1V534h-1zM1165 328h1V511h-1zM1166 287h1V510h-1zM1167 286h1V491h-1zM1168 298h1V503h-1zM1169 300h1V503h-1zM1170 313h1V538h-1zM1171 314h1V544h-1zM1172 294h1V544h-1zM1173 294h1V542h-1zM1174 294h1V516h-1zM1175 321h1V529h-1zM1176 301h1V529h-1zM1177 301h1V529h-1zM1178 331h1V548h-1zM1179 331h1V562h-1zM1180 313h1V563h-1zM1181 288h1V562h-1zM1182 288h1V541h-1zM1183 288h1V575h-1zM1184 358h1V575h-1zM1185 266h1V537h-1zM1186 266h1V536h-1zM1187 252h1V546h-1zM1188 252h1V546h-1zM1189 282h1V567h-1zM1190 282h1V568h-1zM1191 273h1V567h-1zM1192 273h1V548h-1zM1193 291h1V555h-1zM1194 294h1V555h-1zM1195 315h1V539h-1zM1196 315h1V539h-1zM1197 254h1V556h-1zM1198 244h1V557h-1zM1199 244h1V502h-1zM1200 294h1V499h-1zM1201 293h1V584h-1zM1202 294h1V584h-1zM1203 339h1V491h-1zM1204 293h1V496h-1zM1205 251h1V534h-1zM1206 250h1V534h-1zM1207 251h1V535h-1zM1208 362h1V535h-1zM1209 330h1V534h-1zM1210 307h1V502h-1zM1211 307h1V534h-1zM1212 330h1V534h-1zM1213 318h1V508h-1zM1214 269h1V539h-1zM1215 269h1V540h-1zM1216 284h1V548h-1zM1217 284h1V548h-1zM1218 312h1V545h-1zM1219 311h1V533h-1zM1220 228h1V532h-1zM1221 228h1V507h-1zM1222 311h1V511h-1zM1223 311h1V592h-1zM1224 311h1V592h-1zM1225 244h1V536h-1zM1226 243h1V536h-1zM1227 244h1V507h-1zM1228 325h1V485h-1zM1229 284h1V529h-1zM1230 284h1V546h-1zM1231 365h1V560h-1zM1232 365h1V561h-1zM1233 318h1V560h-1zM1234 311h1V490h-1zM1235 311h1V533h-1zM1236 339h1V533h-1zM1237 337h1V496h-1zM1238 297h1V550h-1zM1239 297h1V550h-1zM1240 369h1V550h-1zM1241 324h1V331h-1zM1241 360h1V511h-1zM1242 323h1V516h-1zM1243 324h1V572h-1zM1244 362h1V573h-1zM1245 243h1V572h-1zM1246 243h1V530h-1zM1247 298h1V530h-1zM1248 298h1V520h-1zM1249 299h1V511h-1zM1250 359h1V547h-1zM1251 330h1V547h-1zM1252 330h1V533h-1zM1253 363h1V532h-1zM1254 311h1V530h-1zM1255 264h1V557h-1zM1256 264h1V562h-1zM1257 324h1V563h-1zM1258 306h1V563h-1zM1259 306h1V497h-1zM1260 321h1V502h-1zM1261 308h1V503h-1zM1262 307h1V503h-1zM1263 308h1V503h-1zM1264 346h1V548h-1zM1265 345h1V549h-1zM1266 341h1V508h-1zM1267 340h1V584h-1zM1268 324h1V584h-1zM1269 300h1V537h-1zM1270 298h1V559h-1zM1271 285h1V560h-1zM1272 285h1V526h-1zM1273 174h1V552h-1zM1274 174h1V553h-1zM1275 298h1V532h-1zM1276 297h1V531h-1zM1277 298h1V531h-1zM1278 335h1V346h-1zM1278 369h1V505h-1zM1279 334h1V523h-1zM1280 324h1V524h-1zM1281 289h1V523h-1zM1282 285h1V496h-1zM1283 285h1V539h-1zM1284 286h1V539h-1zM1285 332h1V574h-1zM1286 336h1V574h-1zM1287 344h1V573h-1zM1288 344h1V516h-1zM1289 317h1V509h-1zM1290 317h1V513h-1zM1291 333h1V535h-1zM1292 306h1V309h-1zM1292 317h1V535h-1zM1293 305h1V552h-1zM1294 301h1V552h-1zM1295 201h1V537h-1zM1296 201h1V536h-1zM1297 295h1V582h-1zM1298 335h1V582h-1zM1299 335h1V581h-1zM1300 334h1V525h-1zM1301 309h1V516h-1zM1302 310h1V531h-1zM1303 334h1V531h-1zM1304 335h1V577h-1zM1305 355h1V577h-1zM1306 326h1V577h-1zM1307 305h1V530h-1zM1308 305h1V492h-1zM1309 306h1V535h-1zM1310 306h1V535h-1zM1311 290h1V510h-1zM1312 291h1V555h-1zM1313 236h1V589h-1zM1314 236h1V588h-1zM1315 239h1V527h-1zM1316 239h1V540h-1zM1317 292h1V540h-1zM1318 293h1V306h-1zM1318 307h1V482h-1zM1319 307h1V683h-1zM1320 308h1V683h-1zM1321 322h1V544h-1zM1322 323h1V507h-1zM1323 327h1V532h-1zM1324 326h1V558h-1zM1325 307h1V558h-1zM1326 307h1V526h-1zM1327 299h1V526h-1zM1328 299h1V536h-1zM1329 300h1V536h-1zM1330 335h1V560h-1zM1331 335h1V560h-1zM1332 342h1V539h-1zM1333 342h1V538h-1zM1334 336h1V338h-1zM1334 340h1V538h-1zM1335 297h1V534h-1zM1336 296h1V504h-1zM1337 296h1V545h-1zM1338 317h1V638h-1zM1339 303h1V637h-1zM1340 303h1V621h-1zM1341 319h1V621h-1zM1342 304h1V611h-1zM1342 612h1V616h-1zM1343 303h1V529h-1zM1344 303h1V529h-1zM1345 264h1V612h-1zM1346 264h1V613h-1zM1347 331h1V612h-1zM1348 250h1V530h-1zM1349 249h1V530h-1zM1350 250h1V497h-1zM1351 300h1V545h-1zM1352 312h1V544h-1zM1353 293h1V529h-1zM1354 291h1V507h-1zM1355 286h1V520h-1zM1356 286h1V547h-1zM1357 304h1V547h-1zM1358 327h1V489h-1zM1359 327h1V490h-1zM1360 295h1V529h-1zM1361 294h1V529h-1zM1362 293h1V534h-1zM1363 293h1V535h-1zM1364 343h1V534h-1zM1365 319h1V517h-1zM1366 254h1V517h-1zM1367 254h1V579h-1zM1368 311h1V579h-1zM1369 310h1V508h-1zM1370 311h1V511h-1zM1371 314h1V532h-1zM1372 306h1V533h-1zM1373 305h1V527h-1zM1374 327h1V528h-1zM1375 328h1V549h-1zM1376 329h1V577h-1zM1377 284h1V577h-1zM1378 239h1V505h-1zM1379 239h1V541h-1zM1380 240h1V612h-1zM1381 239h1V612h-1zM1382 239h1V540h-1zM1383 355h1V548h-1zM1384 266h1V549h-1zM1385 266h1V548h-1zM1386 266h1V514h-1zM1387 307h1V312h-1zM1387 323h1V514h-1zM1388 306h1V522h-1zM1389 307h1V582h-1zM1390 284h1V582h-1zM1391 284h1V505h-1zM1392 358h1V494h-1zM1393 358h1V504h-1zM1394 358h1V528h-1zM1395 311h1V537h-1zM1396 311h1V537h-1zM1397 241h1V514h-1zM1398 240h1V546h-1zM1399 241h1V546h-1zM1400 283h1V504h-1zM1401 299h1V523h-1zM1402 301h1V540h-1zM1403 316h1V330h-1zM1403 335h1V540h-1zM1404 304h1V535h-1zM1405 303h1V555h-1zM1406 304h1V555h-1zM1407 304h1V484h-1zM1408 303h1V499h-1zM1409 258h1V500h-1zM1410 257h1V613h-1zM1411 258h1V613h-1zM1412 320h1V515h-1zM1413 320h1V515h-1zM1414 331h1V502h-1zM1415 339h1V501h-1zM1416 264h1V499h-1zM1417 263h1V499h-1zM1418 264h1V529h-1zM1419 284h1V529h-1zM1420 359h1V500h-1zM1421 283h1V494h-1zM1422 283h1V510h-1zM1423 284h1V511h-1zM1424 343h1V585h-1zM1425 333h1V585h-1zM1426 330h1V554h-1zM1427 316h1V534h-1zM1428 268h1V522h-1zM1429 269h1V537h-1zM1430 308h1V537h-1zM1431 302h1V469h-1zM1432 301h1V511h-1zM1433 300h1V511h-1zM1434 301h1V511h-1zM1435 317h1V472h-1zM1436 347h1V492h-1zM1437 309h1V583h-1zM1438 309h1V582h-1zM1439 353h1V545h-1z" fill="#4C72B0"/>
<path d="M200 96V712M1440 96V712M200 96H1440M200 712H1440" stroke="#fff" stroke-width="1.74" fill="none"/>
<path d="M200 684.5H1440M200 628.5H1440M200 572.5H1440M200 516.5H1440M200 460.5H1440M200 404.5H1440M200 348.5H1440M200 292.5H1440M200 236.5H1440M200 180.5H1440M200 124.5H1440" stroke="#fff" stroke-width="1.39" fill="none"/>
<clipPath id="ax"><rect x="200" y="96" width="1240" height="616"/></clipPath>
<g clip-path="url(#ax)"><polyline points="200,255.5 209.69,132 219.38,123.7 229.06,123.7 238.75,123.7 248.44,123.7 258.13,123.7 267.82,123.7 277.5,123.7 287.19,123.8 296.88,124.2 306.57,125.7 316.26,127.7 325.95,135.8 335.63,143.9 345.32,180 355.01,428 364.7,626.3 374.39,669.5 384.07,679.6 393.76,681.8 403.45,681.8 413.14,680.5 422.83,679.1 432.51,678.6 442.2,680.1 451.89,681.2 461.58,681.4 471.27,681 480.95,682.2 490.64,683 500.33,683.1 510.02,683 519.71,682 529.4,681.8 539.08,682.8 548.77,682.5 558.46,679.7 568.15,675.5 577.84,675.8 587.52,677.8 597.21,678 606.9,669.2 616.59,604 626.28,482.6 635.96,360 645.65,371.6 655.34,169.8 665.03,141.9 674.72,233.2 684.4,581 694.09,666 703.78,676.8 713.47,681.9 723.16,683.2 732.85,683 742.53,682.7 752.22,682.4 761.91,682.2 771.6,682 781.29,681.9 790.97,682.3 800.66,682.8 810.35,683.2 820.04,683.3 829.73,683.6 839.41,683.3 849.1,683.1 858.79,682.8 868.48,683 878.17,683.2 887.85,683 897.54,682.8 907.23,682.6 916.92,682.9 926.61,683.1 936.29,683.2 945.98,683.2 955.67,683.1 965.36,683 975.05,683.1 984.74,683.2 994.42,683.1 1004.11,683.2 1013.8,683.3 1023.49,683.5 1033.18,683.8 1042.86,683 1052.55,681.2 1062.24,675.7 1071.93,662.5 1081.62,633.5 1091.3,624.3 1100.99,653 1110.68,671.2 1120.37,674.8 1130.06,671.5 1139.74,672.7 1149.43,681.2 1159.12,682.8 1168.81,681.8 1178.5,680.7 1188.19,681.8 1197.87,683 1207.56,683.1 1217.25,683.2 1226.94,683 1236.63,683.2 1246.31,683.3 1256,683.2 1265.69,683.1 1275.38,683 1285.07,682.2 1294.75,681.4 1304.44,680.7 1314.13,681.4 1323.82,682 1333.51,681.5 1343.19,681.1 1352.88,682 1362.57,682.8 1372.26,682.3 1381.95,681.9 1391.64,682.3 1401.32,682.7 1411.01,681.8 1420.7,680.7 1430.39,681.9" fill="none" stroke="#55A868" stroke-width="2.08" stroke-linejoin="round" stroke-linecap="square"/>
<path d="M200 180H1440" stroke="#C44E52" stroke-width="2.08"/>
<path d="M336 124V684M646 124V684M665 124V684" stroke="#1A1A1A" stroke-width="2.08"/></g>
<path d="M200 96V712M1440 96V712M200 96H1440M200 712H1440" stroke="#fff" stroke-width="1.74" fill="none"/>
<path d="M192 683h7v2h-7zM192 654h7v2h-7zM192 624h7v2h-7zM192 595h7v2h-7zM192 565h7v2h-7zM192 536h7v2h-7zM192 506h7v2h-7zM192 477h7v2h-7zM192 447h7v2h-7zM192 418h7v2h-7zM192 388h7v2h-7zM192 359h7v2h-7zM192 329h7v2h-7zM192 300h7v2h-7zM192 270h7v2h-7zM192 241h7v2h-7zM192 211h7v2h-7zM192 182h7v2h-7zM192 152h7v2h-7zM192 123h7v2h-7zM1441 683h7v2h-7zM1441 627h7v2h-7zM1441 571h7v2h-7zM1441 515h7v2h-7zM1441 459h7v2h-7zM1441 403h7v2h-7zM1441 347h7v2h-7zM1441 291h7v2h-7zM1441 235h7v2h-7zM1441 179h7v2h-7zM1441 123h7v2h-7z" fill="#262626"/>
<rect x="1120.5" y="693.6" width="214" height="27" rx="3" ry="3" fill="#EAEAF2" fill-opacity="0.8" stroke="#CCCCCC" stroke-opacity="0.8" stroke-width="1.39"/>
<path d="M1126.6 705.9H1157.2" stroke="#4C72B0" stroke-width="2.08" stroke-linecap="round"/>
<g opacity="0.999">
<text x="820" y="87" text-anchor="middle" font-size="17.67" textLength="444.01" lengthAdjust="spacingAndGlyphs">stats at each timestep for test data 21559 [signal=1]</text>
<text x="820" y="759" text-anchor="middle" font-size="17.67" textLength="68.02" lengthAdjust="spacingAndGlyphs">Time (s)</text>
<text transform="translate(138 405) rotate(-90)" x="0" y="0" text-anchor="middle" font-size="18.34" textLength="132.01" lengthAdjust="spacingAndGlyphs">Whitened strain</text>
<text transform="translate(1495 405) rotate(-90)" x="0" y="0" text-anchor="middle" font-size="18.34" textLength="174.01" lengthAdjust="spacingAndGlyphs">Detection probability</text>
<text x="1170" y="712" text-anchor="start" font-size="16.2" textLength="157.01" lengthAdjust="spacingAndGlyphs">waveform with noise</text>
<text x="231" y="123" text-anchor="start" font-size="22.91" textLength="277.01" lengthAdjust="spacingAndGlyphs">SNR=5.271117687225342</text>
<text x="604" y="123" text-anchor="start" font-size="22.91" textLength="17" lengthAdjust="spacingAndGlyphs" font-style="italic">M</text>
<text x="622" y="127" text-anchor="start" font-size="16.04" textLength="8" lengthAdjust="spacingAndGlyphs" font-style="italic">c</text>
<text x="631" y="123" text-anchor="start" font-size="22.91" textLength="247.02" lengthAdjust="spacingAndGlyphs">=2.7215075492858887</text>
<text x="1069" y="123" text-anchor="start" font-size="22.91" textLength="13" lengthAdjust="spacingAndGlyphs" font-style="italic">S</text>
<text x="1083" y="123" text-anchor="start" font-size="22.91" textLength="274.01" lengthAdjust="spacingAndGlyphs">=0.005336159840226173</text>
<text x="200" y="737" text-anchor="middle" font-size="16.2" textLength="22" lengthAdjust="spacingAndGlyphs">0.0</text>
<text x="277" y="737" text-anchor="middle" font-size="16.2" textLength="22" lengthAdjust="spacingAndGlyphs">0.5</text>
<text x="355" y="737" text-anchor="middle" font-size="16.2" textLength="22.05" lengthAdjust="spacingAndGlyphs">1.0</text>
<text x="432" y="737" text-anchor="middle" font-size="16.2" textLength="22.05" lengthAdjust="spacingAndGlyphs">1.5</text>
<text x="509" y="737" text-anchor="middle" font-size="16.2" textLength="22.05" lengthAdjust="spacingAndGlyphs">2.0</text>
<text x="587" y="737" text-anchor="middle" font-size="16.2" textLength="22.05" lengthAdjust="spacingAndGlyphs">2.5</text>
<text x="664" y="737" text-anchor="middle" font-size="16.2" textLength="22.05" lengthAdjust="spacingAndGlyphs">3.0</text>
<text x="742" y="737" text-anchor="middle" font-size="16.2" textLength="22.05" lengthAdjust="spacingAndGlyphs">3.5</text>
<text x="820.5" y="737" text-anchor="middle" font-size="16.2" textLength="21" lengthAdjust="spacingAndGlyphs">4.0</text>
<text x="897.5" y="737" text-anchor="middle" font-size="16.2" textLength="21" lengthAdjust="spacingAndGlyphs">4.5</text>
<text x="974" y="737" text-anchor="middle" font-size="16.2" textLength="22.05" lengthAdjust="spacingAndGlyphs">5.0</text>
<text x="1052" y="737" text-anchor="middle" font-size="16.2" textLength="22.05" lengthAdjust="spacingAndGlyphs">5.5</text>
<text x="1129" y="737" text-anchor="middle" font-size="16.2" textLength="22.05" lengthAdjust="spacingAndGlyphs">6.0</text>
<text x="1207" y="737" text-anchor="middle" font-size="16.2" textLength="22.05" lengthAdjust="spacingAndGlyphs">6.5</text>
<text x="1284" y="737" text-anchor="middle" font-size="16.2" textLength="22.05" lengthAdjust="spacingAndGlyphs">7.0</text>
<text x="1362" y="737" text-anchor="middle" font-size="16.2" textLength="22.05" lengthAdjust="spacingAndGlyphs">7.5</text>
<text x="185.5" y="690" text-anchor="end" font-size="16.2" textLength="35.03" lengthAdjust="spacingAndGlyphs">−0.9</text>
<text x="186.5" y="661" text-anchor="end" font-size="16.2" textLength="35.03" lengthAdjust="spacingAndGlyphs">−0.8</text>
<text x="186.5" y="631" text-anchor="end" font-size="16.2" textLength="35.03" lengthAdjust="spacingAndGlyphs">−0.7</text>
<text x="185.5" y="602" text-anchor="end" font-size="16.2" textLength="35.03" lengthAdjust="spacingAndGlyphs">−0.6</text>
<text x="186.5" y="572" text-anchor="end" font-size="16.2" textLength="35.03" lengthAdjust="spacingAndGlyphs">−0.5</text>
<text x="186.5" y="543" text-anchor="end" font-size="16.2" textLength="35.03" lengthAdjust="spacingAndGlyphs">−0.4</text>
<text x="185.5" y="513" text-anchor="end" font-size="16.2" textLength="35.03" lengthAdjust="spacingAndGlyphs">−0.3</text>
<text x="186.5" y="484" text-anchor="end" font-size="16.2" textLength="35.03" lengthAdjust="spacingAndGlyphs">−0.2</text>
<text x="186.5" y="454" text-anchor="end" font-size="16.2" textLength="35.03" lengthAdjust="spacingAndGlyphs">−0.1</text>
<text x="186" y="425" text-anchor="end" font-size="16.2" textLength="22" lengthAdjust="spacingAndGlyphs">0.0</text>
<text x="186" y="395" text-anchor="end" font-size="16.2" textLength="22" lengthAdjust="spacingAndGlyphs">0.1</text>
<text x="186" y="366" text-anchor="end" font-size="16.2" textLength="22" lengthAdjust="spacingAndGlyphs">0.2</text>
<text x="186" y="336" text-anchor="end" font-size="16.2" textLength="22" lengthAdjust="spacingAndGlyphs">0.3</text>
<text x="187" y="307" text-anchor="end" font-size="16.2" textLength="23" lengthAdjust="spacingAndGlyphs">0.4</text>
<text x="186" y="277" text-anchor="end" font-size="16.2" textLength="22" lengthAdjust="spacingAndGlyphs">0.5</text>
<text x="186" y="248" text-anchor="end" font-size="16.2" textLength="22" lengthAdjust="spacingAndGlyphs">0.6</text>
<text x="186" y="218" text-anchor="end" font-size="16.2" textLength="22" lengthAdjust="spacingAndGlyphs">0.7</text>
<text x="186" y="189" text-anchor="end" font-size="16.2" textLength="22" lengthAdjust="spacingAndGlyphs">0.8</text>
<text x="186" y="159" text-anchor="end" font-size="16.2" textLength="22" lengthAdjust="spacingAndGlyphs">0.9</text>
<text x="185.5" y="130" text-anchor="end" font-size="16.2" textLength="22.05" lengthAdjust="spacingAndGlyphs">1.0</text>
<text x="1454" y="690" text-anchor="start" font-size="16.2" textLength="22" lengthAdjust="spacingAndGlyphs">0.0</text>
<text x="1454" y="634" text-anchor="start" font-size="16.2" textLength="22" lengthAdjust="spacingAndGlyphs">0.1</text>
<text x="1454" y="578" text-anchor="start" font-size="16.2" textLength="22" lengthAdjust="spacingAndGlyphs">0.2</text>
<text x="1454" y="522" text-anchor="start" font-size="16.2" textLength="22" lengthAdjust="spacingAndGlyphs">0.3</text>
<text x="1454" y="466" text-anchor="start" font-size="16.2" textLength="23" lengthAdjust="spacingAndGlyphs">0.4</text>
<text x="1454" y="410" text-anchor="start" font-size="16.2" textLength="22" lengthAdjust="spacingAndGlyphs">0.5</text>
<text x="1454" y="354" text-anchor="start" font-size="16.2" textLength="22" lengthAdjust="spacingAndGlyphs">0.6</text>
<text x="1454" y="298" text-anchor="start" font-size="16.2" textLength="22" lengthAdjust="spacingAndGlyphs">0.7</text>
<text x="1454" y="242" text-anchor="start" font-size="16.2" textLength="22" lengthAdjust="spacingAndGlyphs">0.8</text>
<text x="1454" y="186" text-anchor="start" font-size="16.2" textLength="22" lengthAdjust="spacingAndGlyphs">0.9</text>
<text x="1454.5" y="130" text-anchor="start" font-size="16.2" textLength="22.05" lengthAdjust="spacingAndGlyphs">1.0</text>
</g>
</svg></body></html>
